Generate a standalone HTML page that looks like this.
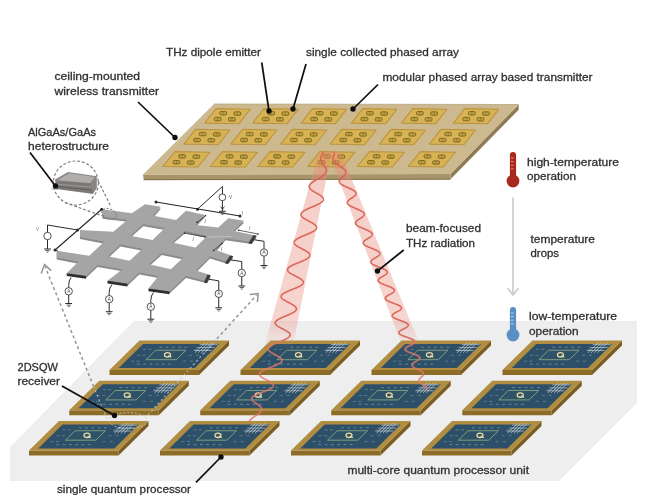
<!DOCTYPE html>
<html><head><meta charset="utf-8"><title>THz wireless quantum processor link</title>
<style>
html,body{margin:0;padding:0;background:#fff;}
body{width:648px;height:500px;overflow:hidden;}
svg{display:block;}
text{font-family:"Liberation Sans",sans-serif;font-size:11.3px;fill:#303030;stroke:#303030;stroke-width:0.3px;}
</style></head><body>
<svg width="648" height="500" viewBox="0 0 648 500">
<defs>
<filter id="soft" x="-5%" y="-5%" width="110%" height="110%"><feGaussianBlur stdDeviation="0.45"/></filter>
<linearGradient id="beamL" gradientUnits="userSpaceOnUse" x1="0" y1="150" x2="0" y2="350">
<stop offset="0" stop-color="#e8887a" stop-opacity="0.42"/><stop offset="0.85" stop-color="#e8887a" stop-opacity="0.36"/><stop offset="1" stop-color="#e8887a" stop-opacity="0"/></linearGradient>
<linearGradient id="beamR" gradientUnits="userSpaceOnUse" x1="0" y1="150" x2="0" y2="350">
<stop offset="0" stop-color="#e8887a" stop-opacity="0.42"/><stop offset="0.85" stop-color="#e8887a" stop-opacity="0.36"/><stop offset="1" stop-color="#e8887a" stop-opacity="0"/></linearGradient>
</defs>
<rect width="648" height="500" fill="#ffffff"/>
<g filter="url(#soft)">

<polygon points="134.00,321.00 637.00,321.00 637.00,403.00 559.00,481.00 10.00,481.00 10.00,447.00" fill="#eeeeee"/>
<polygon points="109.50,370.00 199.00,370.00 199.00,375.00 109.50,375.00" fill="#8c6c28"/>
<polygon points="229.00,340.50 229.00,345.50 199.00,375.00 199.00,370.00" fill="#7a5d20"/>
<polygon points="139.50,340.50 229.00,340.50 199.00,370.00 109.50,370.00" fill="#b08d40"/>
<polygon points="143.06,344.04 219.14,344.04 194.84,367.94 118.76,367.94" fill="#2f5068"/>
<line x1="159.45" y1="347.29" x2="162.13" y2="347.29" stroke="#7fa3b5" stroke-width="1.1" opacity="0.6"/>
<line x1="165.72" y1="347.29" x2="168.40" y2="347.29" stroke="#7fa3b5" stroke-width="1.1" opacity="0.6"/>
<line x1="171.98" y1="347.29" x2="174.66" y2="347.29" stroke="#7fa3b5" stroke-width="1.1" opacity="0.6"/>
<line x1="178.25" y1="347.29" x2="180.93" y2="347.29" stroke="#7fa3b5" stroke-width="1.1" opacity="0.6"/>
<line x1="184.51" y1="347.29" x2="187.19" y2="347.29" stroke="#7fa3b5" stroke-width="1.1" opacity="0.6"/>
<line x1="136.98" y1="364.10" x2="139.66" y2="364.10" stroke="#7fa3b5" stroke-width="1.1" opacity="0.6"/>
<line x1="143.25" y1="364.10" x2="145.93" y2="364.10" stroke="#7fa3b5" stroke-width="1.1" opacity="0.6"/>
<line x1="149.51" y1="364.10" x2="152.19" y2="364.10" stroke="#7fa3b5" stroke-width="1.1" opacity="0.6"/>
<line x1="155.78" y1="364.10" x2="158.46" y2="364.10" stroke="#7fa3b5" stroke-width="1.1" opacity="0.6"/>
<line x1="162.04" y1="364.10" x2="164.72" y2="364.10" stroke="#7fa3b5" stroke-width="1.1" opacity="0.6"/>
<line x1="168.31" y1="364.10" x2="170.99" y2="364.10" stroke="#7fa3b5" stroke-width="1.1" opacity="0.6"/>
<line x1="143.03" y1="349.35" x2="146.16" y2="349.35" stroke="#7fa3b5" stroke-width="1" opacity="0.5"/>
<line x1="148.40" y1="349.35" x2="151.53" y2="349.35" stroke="#7fa3b5" stroke-width="1" opacity="0.5"/>
<line x1="194.94" y1="349.35" x2="198.07" y2="349.35" stroke="#7fa3b5" stroke-width="1" opacity="0.5"/>
<line x1="202.10" y1="349.35" x2="205.23" y2="349.35" stroke="#7fa3b5" stroke-width="1" opacity="0.5"/>
<line x1="137.03" y1="355.25" x2="140.16" y2="355.25" stroke="#7fa3b5" stroke-width="1" opacity="0.5"/>
<line x1="142.40" y1="355.25" x2="145.53" y2="355.25" stroke="#7fa3b5" stroke-width="1" opacity="0.5"/>
<line x1="188.94" y1="355.25" x2="192.07" y2="355.25" stroke="#7fa3b5" stroke-width="1" opacity="0.5"/>
<line x1="196.10" y1="355.25" x2="199.23" y2="355.25" stroke="#7fa3b5" stroke-width="1" opacity="0.5"/>
<line x1="131.03" y1="361.15" x2="134.16" y2="361.15" stroke="#7fa3b5" stroke-width="1" opacity="0.5"/>
<line x1="136.40" y1="361.15" x2="139.53" y2="361.15" stroke="#7fa3b5" stroke-width="1" opacity="0.5"/>
<line x1="182.94" y1="361.15" x2="186.07" y2="361.15" stroke="#7fa3b5" stroke-width="1" opacity="0.5"/>
<line x1="190.10" y1="361.15" x2="193.23" y2="361.15" stroke="#7fa3b5" stroke-width="1" opacity="0.5"/>
<polygon points="155.55,350.24 185.98,350.24 176.38,359.68 145.95,359.68" fill="#2f5268" stroke="#93ad86" stroke-width="0.8"/>
<ellipse cx="167.46" cy="354.81" rx="3.0" ry="2.2" fill="none" stroke="#e6d8a4" stroke-width="1.3"/>
<line x1="168.26" y1="355.61" x2="171.36" y2="357.31" stroke="#e6d8a4" stroke-width="1.2"/>
<line x1="205.12" y1="342.86" x2="194.92" y2="352.89" stroke="#d6dde0" stroke-width="0.8" opacity="0.75"/>
<line x1="208.25" y1="342.86" x2="198.05" y2="352.89" stroke="#d6dde0" stroke-width="0.8" opacity="0.75"/>
<line x1="211.39" y1="342.86" x2="201.19" y2="352.89" stroke="#d6dde0" stroke-width="0.8" opacity="0.75"/>
<line x1="214.52" y1="342.86" x2="204.32" y2="352.89" stroke="#d6dde0" stroke-width="0.8" opacity="0.75"/>
<line x1="199.74" y1="344.63" x2="217.64" y2="344.63" stroke="#d6dde0" stroke-width="0.8" opacity="0.75"/>
<line x1="196.74" y1="347.58" x2="214.64" y2="347.58" stroke="#d6dde0" stroke-width="0.8" opacity="0.75"/>
<line x1="193.74" y1="350.53" x2="211.64" y2="350.53" stroke="#d6dde0" stroke-width="0.8" opacity="0.75"/>
<polygon points="240.50,370.00 330.00,370.00 330.00,375.00 240.50,375.00" fill="#8c6c28"/>
<polygon points="360.00,340.50 360.00,345.50 330.00,375.00 330.00,370.00" fill="#7a5d20"/>
<polygon points="270.50,340.50 360.00,340.50 330.00,370.00 240.50,370.00" fill="#b08d40"/>
<polygon points="274.06,344.04 350.13,344.04 325.84,367.94 249.76,367.94" fill="#2f5068"/>
<line x1="290.45" y1="347.29" x2="293.13" y2="347.29" stroke="#7fa3b5" stroke-width="1.1" opacity="0.6"/>
<line x1="296.72" y1="347.29" x2="299.40" y2="347.29" stroke="#7fa3b5" stroke-width="1.1" opacity="0.6"/>
<line x1="302.98" y1="347.29" x2="305.67" y2="347.29" stroke="#7fa3b5" stroke-width="1.1" opacity="0.6"/>
<line x1="309.25" y1="347.29" x2="311.93" y2="347.29" stroke="#7fa3b5" stroke-width="1.1" opacity="0.6"/>
<line x1="315.51" y1="347.29" x2="318.20" y2="347.29" stroke="#7fa3b5" stroke-width="1.1" opacity="0.6"/>
<line x1="267.98" y1="364.10" x2="270.67" y2="364.10" stroke="#7fa3b5" stroke-width="1.1" opacity="0.6"/>
<line x1="274.25" y1="364.10" x2="276.93" y2="364.10" stroke="#7fa3b5" stroke-width="1.1" opacity="0.6"/>
<line x1="280.51" y1="364.10" x2="283.19" y2="364.10" stroke="#7fa3b5" stroke-width="1.1" opacity="0.6"/>
<line x1="286.77" y1="364.10" x2="289.46" y2="364.10" stroke="#7fa3b5" stroke-width="1.1" opacity="0.6"/>
<line x1="293.04" y1="364.10" x2="295.73" y2="364.10" stroke="#7fa3b5" stroke-width="1.1" opacity="0.6"/>
<line x1="299.31" y1="364.10" x2="301.99" y2="364.10" stroke="#7fa3b5" stroke-width="1.1" opacity="0.6"/>
<line x1="274.03" y1="349.35" x2="277.16" y2="349.35" stroke="#7fa3b5" stroke-width="1" opacity="0.5"/>
<line x1="279.40" y1="349.35" x2="282.53" y2="349.35" stroke="#7fa3b5" stroke-width="1" opacity="0.5"/>
<line x1="325.94" y1="349.35" x2="329.07" y2="349.35" stroke="#7fa3b5" stroke-width="1" opacity="0.5"/>
<line x1="333.10" y1="349.35" x2="336.23" y2="349.35" stroke="#7fa3b5" stroke-width="1" opacity="0.5"/>
<line x1="268.03" y1="355.25" x2="271.16" y2="355.25" stroke="#7fa3b5" stroke-width="1" opacity="0.5"/>
<line x1="273.40" y1="355.25" x2="276.53" y2="355.25" stroke="#7fa3b5" stroke-width="1" opacity="0.5"/>
<line x1="319.94" y1="355.25" x2="323.07" y2="355.25" stroke="#7fa3b5" stroke-width="1" opacity="0.5"/>
<line x1="327.10" y1="355.25" x2="330.23" y2="355.25" stroke="#7fa3b5" stroke-width="1" opacity="0.5"/>
<line x1="262.03" y1="361.15" x2="265.16" y2="361.15" stroke="#7fa3b5" stroke-width="1" opacity="0.5"/>
<line x1="267.40" y1="361.15" x2="270.53" y2="361.15" stroke="#7fa3b5" stroke-width="1" opacity="0.5"/>
<line x1="313.94" y1="361.15" x2="317.07" y2="361.15" stroke="#7fa3b5" stroke-width="1" opacity="0.5"/>
<line x1="321.10" y1="361.15" x2="324.23" y2="361.15" stroke="#7fa3b5" stroke-width="1" opacity="0.5"/>
<polygon points="286.56,350.24 316.99,350.24 307.38,359.68 276.95,359.68" fill="#2f5268" stroke="#93ad86" stroke-width="0.8"/>
<ellipse cx="298.46" cy="354.81" rx="3.0" ry="2.2" fill="none" stroke="#e6d8a4" stroke-width="1.3"/>
<line x1="299.26" y1="355.61" x2="302.36" y2="357.31" stroke="#e6d8a4" stroke-width="1.2"/>
<line x1="336.12" y1="342.86" x2="325.92" y2="352.89" stroke="#d6dde0" stroke-width="0.8" opacity="0.75"/>
<line x1="339.25" y1="342.86" x2="329.05" y2="352.89" stroke="#d6dde0" stroke-width="0.8" opacity="0.75"/>
<line x1="342.39" y1="342.86" x2="332.19" y2="352.89" stroke="#d6dde0" stroke-width="0.8" opacity="0.75"/>
<line x1="345.52" y1="342.86" x2="335.32" y2="352.89" stroke="#d6dde0" stroke-width="0.8" opacity="0.75"/>
<line x1="330.74" y1="344.63" x2="348.64" y2="344.63" stroke="#d6dde0" stroke-width="0.8" opacity="0.75"/>
<line x1="327.74" y1="347.58" x2="345.64" y2="347.58" stroke="#d6dde0" stroke-width="0.8" opacity="0.75"/>
<line x1="324.74" y1="350.53" x2="342.64" y2="350.53" stroke="#d6dde0" stroke-width="0.8" opacity="0.75"/>
<polygon points="371.50,370.00 461.00,370.00 461.00,375.00 371.50,375.00" fill="#8c6c28"/>
<polygon points="491.00,340.50 491.00,345.50 461.00,375.00 461.00,370.00" fill="#7a5d20"/>
<polygon points="401.50,340.50 491.00,340.50 461.00,370.00 371.50,370.00" fill="#b08d40"/>
<polygon points="405.06,344.04 481.13,344.04 456.84,367.94 380.76,367.94" fill="#2f5068"/>
<line x1="421.45" y1="347.29" x2="424.13" y2="347.29" stroke="#7fa3b5" stroke-width="1.1" opacity="0.6"/>
<line x1="427.72" y1="347.29" x2="430.40" y2="347.29" stroke="#7fa3b5" stroke-width="1.1" opacity="0.6"/>
<line x1="433.98" y1="347.29" x2="436.67" y2="347.29" stroke="#7fa3b5" stroke-width="1.1" opacity="0.6"/>
<line x1="440.25" y1="347.29" x2="442.93" y2="347.29" stroke="#7fa3b5" stroke-width="1.1" opacity="0.6"/>
<line x1="446.51" y1="347.29" x2="449.20" y2="347.29" stroke="#7fa3b5" stroke-width="1.1" opacity="0.6"/>
<line x1="398.98" y1="364.10" x2="401.67" y2="364.10" stroke="#7fa3b5" stroke-width="1.1" opacity="0.6"/>
<line x1="405.25" y1="364.10" x2="407.93" y2="364.10" stroke="#7fa3b5" stroke-width="1.1" opacity="0.6"/>
<line x1="411.51" y1="364.10" x2="414.19" y2="364.10" stroke="#7fa3b5" stroke-width="1.1" opacity="0.6"/>
<line x1="417.77" y1="364.10" x2="420.46" y2="364.10" stroke="#7fa3b5" stroke-width="1.1" opacity="0.6"/>
<line x1="424.04" y1="364.10" x2="426.73" y2="364.10" stroke="#7fa3b5" stroke-width="1.1" opacity="0.6"/>
<line x1="430.31" y1="364.10" x2="432.99" y2="364.10" stroke="#7fa3b5" stroke-width="1.1" opacity="0.6"/>
<line x1="405.03" y1="349.35" x2="408.16" y2="349.35" stroke="#7fa3b5" stroke-width="1" opacity="0.5"/>
<line x1="410.40" y1="349.35" x2="413.53" y2="349.35" stroke="#7fa3b5" stroke-width="1" opacity="0.5"/>
<line x1="456.94" y1="349.35" x2="460.07" y2="349.35" stroke="#7fa3b5" stroke-width="1" opacity="0.5"/>
<line x1="464.10" y1="349.35" x2="467.23" y2="349.35" stroke="#7fa3b5" stroke-width="1" opacity="0.5"/>
<line x1="399.03" y1="355.25" x2="402.16" y2="355.25" stroke="#7fa3b5" stroke-width="1" opacity="0.5"/>
<line x1="404.40" y1="355.25" x2="407.53" y2="355.25" stroke="#7fa3b5" stroke-width="1" opacity="0.5"/>
<line x1="450.94" y1="355.25" x2="454.07" y2="355.25" stroke="#7fa3b5" stroke-width="1" opacity="0.5"/>
<line x1="458.10" y1="355.25" x2="461.23" y2="355.25" stroke="#7fa3b5" stroke-width="1" opacity="0.5"/>
<line x1="393.03" y1="361.15" x2="396.16" y2="361.15" stroke="#7fa3b5" stroke-width="1" opacity="0.5"/>
<line x1="398.40" y1="361.15" x2="401.53" y2="361.15" stroke="#7fa3b5" stroke-width="1" opacity="0.5"/>
<line x1="444.94" y1="361.15" x2="448.07" y2="361.15" stroke="#7fa3b5" stroke-width="1" opacity="0.5"/>
<line x1="452.10" y1="361.15" x2="455.23" y2="361.15" stroke="#7fa3b5" stroke-width="1" opacity="0.5"/>
<polygon points="417.56,350.24 447.99,350.24 438.38,359.68 407.95,359.68" fill="#2f5268" stroke="#93ad86" stroke-width="0.8"/>
<ellipse cx="429.46" cy="354.81" rx="3.0" ry="2.2" fill="none" stroke="#e6d8a4" stroke-width="1.3"/>
<line x1="430.26" y1="355.61" x2="433.36" y2="357.31" stroke="#e6d8a4" stroke-width="1.2"/>
<line x1="467.12" y1="342.86" x2="456.92" y2="352.89" stroke="#d6dde0" stroke-width="0.8" opacity="0.75"/>
<line x1="470.25" y1="342.86" x2="460.05" y2="352.89" stroke="#d6dde0" stroke-width="0.8" opacity="0.75"/>
<line x1="473.39" y1="342.86" x2="463.19" y2="352.89" stroke="#d6dde0" stroke-width="0.8" opacity="0.75"/>
<line x1="476.52" y1="342.86" x2="466.32" y2="352.89" stroke="#d6dde0" stroke-width="0.8" opacity="0.75"/>
<line x1="461.74" y1="344.63" x2="479.64" y2="344.63" stroke="#d6dde0" stroke-width="0.8" opacity="0.75"/>
<line x1="458.74" y1="347.58" x2="476.64" y2="347.58" stroke="#d6dde0" stroke-width="0.8" opacity="0.75"/>
<line x1="455.74" y1="350.53" x2="473.64" y2="350.53" stroke="#d6dde0" stroke-width="0.8" opacity="0.75"/>
<polygon points="502.50,370.00 592.00,370.00 592.00,375.00 502.50,375.00" fill="#8c6c28"/>
<polygon points="622.00,340.50 622.00,345.50 592.00,375.00 592.00,370.00" fill="#7a5d20"/>
<polygon points="532.50,340.50 622.00,340.50 592.00,370.00 502.50,370.00" fill="#b08d40"/>
<polygon points="536.06,344.04 612.13,344.04 587.84,367.94 511.76,367.94" fill="#2f5068"/>
<line x1="552.45" y1="347.29" x2="555.13" y2="347.29" stroke="#7fa3b5" stroke-width="1.1" opacity="0.6"/>
<line x1="558.72" y1="347.29" x2="561.40" y2="347.29" stroke="#7fa3b5" stroke-width="1.1" opacity="0.6"/>
<line x1="564.98" y1="347.29" x2="567.67" y2="347.29" stroke="#7fa3b5" stroke-width="1.1" opacity="0.6"/>
<line x1="571.25" y1="347.29" x2="573.93" y2="347.29" stroke="#7fa3b5" stroke-width="1.1" opacity="0.6"/>
<line x1="577.51" y1="347.29" x2="580.20" y2="347.29" stroke="#7fa3b5" stroke-width="1.1" opacity="0.6"/>
<line x1="529.98" y1="364.10" x2="532.66" y2="364.10" stroke="#7fa3b5" stroke-width="1.1" opacity="0.6"/>
<line x1="536.25" y1="364.10" x2="538.93" y2="364.10" stroke="#7fa3b5" stroke-width="1.1" opacity="0.6"/>
<line x1="542.51" y1="364.10" x2="545.20" y2="364.10" stroke="#7fa3b5" stroke-width="1.1" opacity="0.6"/>
<line x1="548.77" y1="364.10" x2="551.46" y2="364.10" stroke="#7fa3b5" stroke-width="1.1" opacity="0.6"/>
<line x1="555.04" y1="364.10" x2="557.73" y2="364.10" stroke="#7fa3b5" stroke-width="1.1" opacity="0.6"/>
<line x1="561.30" y1="364.10" x2="563.99" y2="364.10" stroke="#7fa3b5" stroke-width="1.1" opacity="0.6"/>
<line x1="536.03" y1="349.35" x2="539.16" y2="349.35" stroke="#7fa3b5" stroke-width="1" opacity="0.5"/>
<line x1="541.40" y1="349.35" x2="544.53" y2="349.35" stroke="#7fa3b5" stroke-width="1" opacity="0.5"/>
<line x1="587.94" y1="349.35" x2="591.07" y2="349.35" stroke="#7fa3b5" stroke-width="1" opacity="0.5"/>
<line x1="595.10" y1="349.35" x2="598.23" y2="349.35" stroke="#7fa3b5" stroke-width="1" opacity="0.5"/>
<line x1="530.03" y1="355.25" x2="533.16" y2="355.25" stroke="#7fa3b5" stroke-width="1" opacity="0.5"/>
<line x1="535.40" y1="355.25" x2="538.53" y2="355.25" stroke="#7fa3b5" stroke-width="1" opacity="0.5"/>
<line x1="581.94" y1="355.25" x2="585.07" y2="355.25" stroke="#7fa3b5" stroke-width="1" opacity="0.5"/>
<line x1="589.10" y1="355.25" x2="592.23" y2="355.25" stroke="#7fa3b5" stroke-width="1" opacity="0.5"/>
<line x1="524.03" y1="361.15" x2="527.16" y2="361.15" stroke="#7fa3b5" stroke-width="1" opacity="0.5"/>
<line x1="529.40" y1="361.15" x2="532.53" y2="361.15" stroke="#7fa3b5" stroke-width="1" opacity="0.5"/>
<line x1="575.94" y1="361.15" x2="579.07" y2="361.15" stroke="#7fa3b5" stroke-width="1" opacity="0.5"/>
<line x1="583.10" y1="361.15" x2="586.23" y2="361.15" stroke="#7fa3b5" stroke-width="1" opacity="0.5"/>
<polygon points="548.56,350.24 578.99,350.24 569.38,359.68 538.96,359.68" fill="#2f5268" stroke="#93ad86" stroke-width="0.8"/>
<ellipse cx="560.46" cy="354.81" rx="3.0" ry="2.2" fill="none" stroke="#e6d8a4" stroke-width="1.3"/>
<line x1="561.26" y1="355.61" x2="564.36" y2="357.31" stroke="#e6d8a4" stroke-width="1.2"/>
<line x1="598.12" y1="342.86" x2="587.92" y2="352.89" stroke="#d6dde0" stroke-width="0.8" opacity="0.75"/>
<line x1="601.25" y1="342.86" x2="591.05" y2="352.89" stroke="#d6dde0" stroke-width="0.8" opacity="0.75"/>
<line x1="604.38" y1="342.86" x2="594.18" y2="352.89" stroke="#d6dde0" stroke-width="0.8" opacity="0.75"/>
<line x1="607.52" y1="342.86" x2="597.32" y2="352.89" stroke="#d6dde0" stroke-width="0.8" opacity="0.75"/>
<line x1="592.74" y1="344.63" x2="610.64" y2="344.63" stroke="#d6dde0" stroke-width="0.8" opacity="0.75"/>
<line x1="589.74" y1="347.58" x2="607.64" y2="347.58" stroke="#d6dde0" stroke-width="0.8" opacity="0.75"/>
<line x1="586.74" y1="350.53" x2="604.64" y2="350.53" stroke="#d6dde0" stroke-width="0.8" opacity="0.75"/>
<polygon points="69.25,410.25 158.75,410.25 158.75,415.25 69.25,415.25" fill="#8c6c28"/>
<polygon points="188.75,380.75 188.75,385.75 158.75,415.25 158.75,410.25" fill="#7a5d20"/>
<polygon points="99.25,380.75 188.75,380.75 158.75,410.25 69.25,410.25" fill="#b08d40"/>
<polygon points="102.81,384.29 178.89,384.29 154.59,408.19 78.51,408.19" fill="#2f5068"/>
<line x1="119.20" y1="387.54" x2="121.88" y2="387.54" stroke="#7fa3b5" stroke-width="1.1" opacity="0.6"/>
<line x1="125.47" y1="387.54" x2="128.15" y2="387.54" stroke="#7fa3b5" stroke-width="1.1" opacity="0.6"/>
<line x1="131.73" y1="387.54" x2="134.41" y2="387.54" stroke="#7fa3b5" stroke-width="1.1" opacity="0.6"/>
<line x1="138.00" y1="387.54" x2="140.68" y2="387.54" stroke="#7fa3b5" stroke-width="1.1" opacity="0.6"/>
<line x1="144.26" y1="387.54" x2="146.94" y2="387.54" stroke="#7fa3b5" stroke-width="1.1" opacity="0.6"/>
<line x1="96.73" y1="404.35" x2="99.42" y2="404.35" stroke="#7fa3b5" stroke-width="1.1" opacity="0.6"/>
<line x1="103.00" y1="404.35" x2="105.68" y2="404.35" stroke="#7fa3b5" stroke-width="1.1" opacity="0.6"/>
<line x1="109.26" y1="404.35" x2="111.94" y2="404.35" stroke="#7fa3b5" stroke-width="1.1" opacity="0.6"/>
<line x1="115.53" y1="404.35" x2="118.21" y2="404.35" stroke="#7fa3b5" stroke-width="1.1" opacity="0.6"/>
<line x1="121.79" y1="404.35" x2="124.47" y2="404.35" stroke="#7fa3b5" stroke-width="1.1" opacity="0.6"/>
<line x1="128.06" y1="404.35" x2="130.74" y2="404.35" stroke="#7fa3b5" stroke-width="1.1" opacity="0.6"/>
<line x1="102.78" y1="389.60" x2="105.91" y2="389.60" stroke="#7fa3b5" stroke-width="1" opacity="0.5"/>
<line x1="108.15" y1="389.60" x2="111.28" y2="389.60" stroke="#7fa3b5" stroke-width="1" opacity="0.5"/>
<line x1="154.69" y1="389.60" x2="157.82" y2="389.60" stroke="#7fa3b5" stroke-width="1" opacity="0.5"/>
<line x1="161.85" y1="389.60" x2="164.98" y2="389.60" stroke="#7fa3b5" stroke-width="1" opacity="0.5"/>
<line x1="96.78" y1="395.50" x2="99.91" y2="395.50" stroke="#7fa3b5" stroke-width="1" opacity="0.5"/>
<line x1="102.15" y1="395.50" x2="105.28" y2="395.50" stroke="#7fa3b5" stroke-width="1" opacity="0.5"/>
<line x1="148.69" y1="395.50" x2="151.82" y2="395.50" stroke="#7fa3b5" stroke-width="1" opacity="0.5"/>
<line x1="155.85" y1="395.50" x2="158.98" y2="395.50" stroke="#7fa3b5" stroke-width="1" opacity="0.5"/>
<line x1="90.78" y1="401.40" x2="93.91" y2="401.40" stroke="#7fa3b5" stroke-width="1" opacity="0.5"/>
<line x1="96.15" y1="401.40" x2="99.28" y2="401.40" stroke="#7fa3b5" stroke-width="1" opacity="0.5"/>
<line x1="142.69" y1="401.40" x2="145.82" y2="401.40" stroke="#7fa3b5" stroke-width="1" opacity="0.5"/>
<line x1="149.85" y1="401.40" x2="152.98" y2="401.40" stroke="#7fa3b5" stroke-width="1" opacity="0.5"/>
<polygon points="115.30,390.49 145.73,390.49 136.13,399.93 105.70,399.93" fill="#2f5268" stroke="#93ad86" stroke-width="0.8"/>
<ellipse cx="127.21" cy="395.06" rx="3.0" ry="2.2" fill="none" stroke="#e6d8a4" stroke-width="1.3"/>
<line x1="128.01" y1="395.86" x2="131.11" y2="397.56" stroke="#e6d8a4" stroke-width="1.2"/>
<line x1="164.87" y1="383.11" x2="154.67" y2="393.14" stroke="#d6dde0" stroke-width="0.8" opacity="0.75"/>
<line x1="168.00" y1="383.11" x2="157.80" y2="393.14" stroke="#d6dde0" stroke-width="0.8" opacity="0.75"/>
<line x1="171.14" y1="383.11" x2="160.94" y2="393.14" stroke="#d6dde0" stroke-width="0.8" opacity="0.75"/>
<line x1="174.27" y1="383.11" x2="164.07" y2="393.14" stroke="#d6dde0" stroke-width="0.8" opacity="0.75"/>
<line x1="159.49" y1="384.88" x2="177.39" y2="384.88" stroke="#d6dde0" stroke-width="0.8" opacity="0.75"/>
<line x1="156.49" y1="387.83" x2="174.39" y2="387.83" stroke="#d6dde0" stroke-width="0.8" opacity="0.75"/>
<line x1="153.49" y1="390.78" x2="171.39" y2="390.78" stroke="#d6dde0" stroke-width="0.8" opacity="0.75"/>
<polygon points="200.25,410.25 289.75,410.25 289.75,415.25 200.25,415.25" fill="#8c6c28"/>
<polygon points="319.75,380.75 319.75,385.75 289.75,415.25 289.75,410.25" fill="#7a5d20"/>
<polygon points="230.25,380.75 319.75,380.75 289.75,410.25 200.25,410.25" fill="#b08d40"/>
<polygon points="233.81,384.29 309.88,384.29 285.59,408.19 209.51,408.19" fill="#2f5068"/>
<line x1="250.20" y1="387.54" x2="252.88" y2="387.54" stroke="#7fa3b5" stroke-width="1.1" opacity="0.6"/>
<line x1="256.47" y1="387.54" x2="259.15" y2="387.54" stroke="#7fa3b5" stroke-width="1.1" opacity="0.6"/>
<line x1="262.73" y1="387.54" x2="265.42" y2="387.54" stroke="#7fa3b5" stroke-width="1.1" opacity="0.6"/>
<line x1="269.00" y1="387.54" x2="271.68" y2="387.54" stroke="#7fa3b5" stroke-width="1.1" opacity="0.6"/>
<line x1="275.26" y1="387.54" x2="277.95" y2="387.54" stroke="#7fa3b5" stroke-width="1.1" opacity="0.6"/>
<line x1="227.73" y1="404.35" x2="230.41" y2="404.35" stroke="#7fa3b5" stroke-width="1.1" opacity="0.6"/>
<line x1="234.00" y1="404.35" x2="236.68" y2="404.35" stroke="#7fa3b5" stroke-width="1.1" opacity="0.6"/>
<line x1="240.26" y1="404.35" x2="242.94" y2="404.35" stroke="#7fa3b5" stroke-width="1.1" opacity="0.6"/>
<line x1="246.52" y1="404.35" x2="249.21" y2="404.35" stroke="#7fa3b5" stroke-width="1.1" opacity="0.6"/>
<line x1="252.79" y1="404.35" x2="255.48" y2="404.35" stroke="#7fa3b5" stroke-width="1.1" opacity="0.6"/>
<line x1="259.06" y1="404.35" x2="261.74" y2="404.35" stroke="#7fa3b5" stroke-width="1.1" opacity="0.6"/>
<line x1="233.78" y1="389.60" x2="236.91" y2="389.60" stroke="#7fa3b5" stroke-width="1" opacity="0.5"/>
<line x1="239.15" y1="389.60" x2="242.28" y2="389.60" stroke="#7fa3b5" stroke-width="1" opacity="0.5"/>
<line x1="285.69" y1="389.60" x2="288.82" y2="389.60" stroke="#7fa3b5" stroke-width="1" opacity="0.5"/>
<line x1="292.85" y1="389.60" x2="295.98" y2="389.60" stroke="#7fa3b5" stroke-width="1" opacity="0.5"/>
<line x1="227.78" y1="395.50" x2="230.91" y2="395.50" stroke="#7fa3b5" stroke-width="1" opacity="0.5"/>
<line x1="233.15" y1="395.50" x2="236.28" y2="395.50" stroke="#7fa3b5" stroke-width="1" opacity="0.5"/>
<line x1="279.69" y1="395.50" x2="282.82" y2="395.50" stroke="#7fa3b5" stroke-width="1" opacity="0.5"/>
<line x1="286.85" y1="395.50" x2="289.98" y2="395.50" stroke="#7fa3b5" stroke-width="1" opacity="0.5"/>
<line x1="221.78" y1="401.40" x2="224.91" y2="401.40" stroke="#7fa3b5" stroke-width="1" opacity="0.5"/>
<line x1="227.15" y1="401.40" x2="230.28" y2="401.40" stroke="#7fa3b5" stroke-width="1" opacity="0.5"/>
<line x1="273.69" y1="401.40" x2="276.82" y2="401.40" stroke="#7fa3b5" stroke-width="1" opacity="0.5"/>
<line x1="280.85" y1="401.40" x2="283.98" y2="401.40" stroke="#7fa3b5" stroke-width="1" opacity="0.5"/>
<polygon points="246.30,390.49 276.74,390.49 267.13,399.93 236.70,399.93" fill="#2f5268" stroke="#93ad86" stroke-width="0.8"/>
<ellipse cx="258.21" cy="395.06" rx="3.0" ry="2.2" fill="none" stroke="#e6d8a4" stroke-width="1.3"/>
<line x1="259.01" y1="395.86" x2="262.11" y2="397.56" stroke="#e6d8a4" stroke-width="1.2"/>
<line x1="295.87" y1="383.11" x2="285.67" y2="393.14" stroke="#d6dde0" stroke-width="0.8" opacity="0.75"/>
<line x1="299.00" y1="383.11" x2="288.80" y2="393.14" stroke="#d6dde0" stroke-width="0.8" opacity="0.75"/>
<line x1="302.14" y1="383.11" x2="291.94" y2="393.14" stroke="#d6dde0" stroke-width="0.8" opacity="0.75"/>
<line x1="305.27" y1="383.11" x2="295.07" y2="393.14" stroke="#d6dde0" stroke-width="0.8" opacity="0.75"/>
<line x1="290.49" y1="384.88" x2="308.39" y2="384.88" stroke="#d6dde0" stroke-width="0.8" opacity="0.75"/>
<line x1="287.49" y1="387.83" x2="305.39" y2="387.83" stroke="#d6dde0" stroke-width="0.8" opacity="0.75"/>
<line x1="284.49" y1="390.78" x2="302.39" y2="390.78" stroke="#d6dde0" stroke-width="0.8" opacity="0.75"/>
<polygon points="331.25,410.25 420.75,410.25 420.75,415.25 331.25,415.25" fill="#8c6c28"/>
<polygon points="450.75,380.75 450.75,385.75 420.75,415.25 420.75,410.25" fill="#7a5d20"/>
<polygon points="361.25,380.75 450.75,380.75 420.75,410.25 331.25,410.25" fill="#b08d40"/>
<polygon points="364.81,384.29 440.88,384.29 416.59,408.19 340.51,408.19" fill="#2f5068"/>
<line x1="381.20" y1="387.54" x2="383.88" y2="387.54" stroke="#7fa3b5" stroke-width="1.1" opacity="0.6"/>
<line x1="387.47" y1="387.54" x2="390.15" y2="387.54" stroke="#7fa3b5" stroke-width="1.1" opacity="0.6"/>
<line x1="393.73" y1="387.54" x2="396.42" y2="387.54" stroke="#7fa3b5" stroke-width="1.1" opacity="0.6"/>
<line x1="400.00" y1="387.54" x2="402.68" y2="387.54" stroke="#7fa3b5" stroke-width="1.1" opacity="0.6"/>
<line x1="406.26" y1="387.54" x2="408.95" y2="387.54" stroke="#7fa3b5" stroke-width="1.1" opacity="0.6"/>
<line x1="358.73" y1="404.35" x2="361.42" y2="404.35" stroke="#7fa3b5" stroke-width="1.1" opacity="0.6"/>
<line x1="365.00" y1="404.35" x2="367.68" y2="404.35" stroke="#7fa3b5" stroke-width="1.1" opacity="0.6"/>
<line x1="371.26" y1="404.35" x2="373.94" y2="404.35" stroke="#7fa3b5" stroke-width="1.1" opacity="0.6"/>
<line x1="377.52" y1="404.35" x2="380.21" y2="404.35" stroke="#7fa3b5" stroke-width="1.1" opacity="0.6"/>
<line x1="383.79" y1="404.35" x2="386.48" y2="404.35" stroke="#7fa3b5" stroke-width="1.1" opacity="0.6"/>
<line x1="390.06" y1="404.35" x2="392.74" y2="404.35" stroke="#7fa3b5" stroke-width="1.1" opacity="0.6"/>
<line x1="364.78" y1="389.60" x2="367.91" y2="389.60" stroke="#7fa3b5" stroke-width="1" opacity="0.5"/>
<line x1="370.15" y1="389.60" x2="373.28" y2="389.60" stroke="#7fa3b5" stroke-width="1" opacity="0.5"/>
<line x1="416.69" y1="389.60" x2="419.82" y2="389.60" stroke="#7fa3b5" stroke-width="1" opacity="0.5"/>
<line x1="423.85" y1="389.60" x2="426.98" y2="389.60" stroke="#7fa3b5" stroke-width="1" opacity="0.5"/>
<line x1="358.78" y1="395.50" x2="361.91" y2="395.50" stroke="#7fa3b5" stroke-width="1" opacity="0.5"/>
<line x1="364.15" y1="395.50" x2="367.28" y2="395.50" stroke="#7fa3b5" stroke-width="1" opacity="0.5"/>
<line x1="410.69" y1="395.50" x2="413.82" y2="395.50" stroke="#7fa3b5" stroke-width="1" opacity="0.5"/>
<line x1="417.85" y1="395.50" x2="420.98" y2="395.50" stroke="#7fa3b5" stroke-width="1" opacity="0.5"/>
<line x1="352.78" y1="401.40" x2="355.91" y2="401.40" stroke="#7fa3b5" stroke-width="1" opacity="0.5"/>
<line x1="358.15" y1="401.40" x2="361.28" y2="401.40" stroke="#7fa3b5" stroke-width="1" opacity="0.5"/>
<line x1="404.69" y1="401.40" x2="407.82" y2="401.40" stroke="#7fa3b5" stroke-width="1" opacity="0.5"/>
<line x1="411.85" y1="401.40" x2="414.98" y2="401.40" stroke="#7fa3b5" stroke-width="1" opacity="0.5"/>
<polygon points="377.31,390.49 407.74,390.49 398.13,399.93 367.70,399.93" fill="#2f5268" stroke="#93ad86" stroke-width="0.8"/>
<ellipse cx="389.21" cy="395.06" rx="3.0" ry="2.2" fill="none" stroke="#e6d8a4" stroke-width="1.3"/>
<line x1="390.01" y1="395.86" x2="393.11" y2="397.56" stroke="#e6d8a4" stroke-width="1.2"/>
<line x1="426.87" y1="383.11" x2="416.67" y2="393.14" stroke="#d6dde0" stroke-width="0.8" opacity="0.75"/>
<line x1="430.00" y1="383.11" x2="419.80" y2="393.14" stroke="#d6dde0" stroke-width="0.8" opacity="0.75"/>
<line x1="433.14" y1="383.11" x2="422.94" y2="393.14" stroke="#d6dde0" stroke-width="0.8" opacity="0.75"/>
<line x1="436.27" y1="383.11" x2="426.07" y2="393.14" stroke="#d6dde0" stroke-width="0.8" opacity="0.75"/>
<line x1="421.49" y1="384.88" x2="439.39" y2="384.88" stroke="#d6dde0" stroke-width="0.8" opacity="0.75"/>
<line x1="418.49" y1="387.83" x2="436.39" y2="387.83" stroke="#d6dde0" stroke-width="0.8" opacity="0.75"/>
<line x1="415.49" y1="390.78" x2="433.39" y2="390.78" stroke="#d6dde0" stroke-width="0.8" opacity="0.75"/>
<polygon points="462.25,410.25 551.75,410.25 551.75,415.25 462.25,415.25" fill="#8c6c28"/>
<polygon points="581.75,380.75 581.75,385.75 551.75,415.25 551.75,410.25" fill="#7a5d20"/>
<polygon points="492.25,380.75 581.75,380.75 551.75,410.25 462.25,410.25" fill="#b08d40"/>
<polygon points="495.81,384.29 571.88,384.29 547.59,408.19 471.51,408.19" fill="#2f5068"/>
<line x1="512.20" y1="387.54" x2="514.88" y2="387.54" stroke="#7fa3b5" stroke-width="1.1" opacity="0.6"/>
<line x1="518.47" y1="387.54" x2="521.15" y2="387.54" stroke="#7fa3b5" stroke-width="1.1" opacity="0.6"/>
<line x1="524.73" y1="387.54" x2="527.42" y2="387.54" stroke="#7fa3b5" stroke-width="1.1" opacity="0.6"/>
<line x1="531.00" y1="387.54" x2="533.68" y2="387.54" stroke="#7fa3b5" stroke-width="1.1" opacity="0.6"/>
<line x1="537.26" y1="387.54" x2="539.95" y2="387.54" stroke="#7fa3b5" stroke-width="1.1" opacity="0.6"/>
<line x1="489.73" y1="404.35" x2="492.41" y2="404.35" stroke="#7fa3b5" stroke-width="1.1" opacity="0.6"/>
<line x1="496.00" y1="404.35" x2="498.68" y2="404.35" stroke="#7fa3b5" stroke-width="1.1" opacity="0.6"/>
<line x1="502.26" y1="404.35" x2="504.95" y2="404.35" stroke="#7fa3b5" stroke-width="1.1" opacity="0.6"/>
<line x1="508.52" y1="404.35" x2="511.21" y2="404.35" stroke="#7fa3b5" stroke-width="1.1" opacity="0.6"/>
<line x1="514.79" y1="404.35" x2="517.48" y2="404.35" stroke="#7fa3b5" stroke-width="1.1" opacity="0.6"/>
<line x1="521.05" y1="404.35" x2="523.74" y2="404.35" stroke="#7fa3b5" stroke-width="1.1" opacity="0.6"/>
<line x1="495.78" y1="389.60" x2="498.91" y2="389.60" stroke="#7fa3b5" stroke-width="1" opacity="0.5"/>
<line x1="501.15" y1="389.60" x2="504.28" y2="389.60" stroke="#7fa3b5" stroke-width="1" opacity="0.5"/>
<line x1="547.69" y1="389.60" x2="550.82" y2="389.60" stroke="#7fa3b5" stroke-width="1" opacity="0.5"/>
<line x1="554.85" y1="389.60" x2="557.98" y2="389.60" stroke="#7fa3b5" stroke-width="1" opacity="0.5"/>
<line x1="489.78" y1="395.50" x2="492.91" y2="395.50" stroke="#7fa3b5" stroke-width="1" opacity="0.5"/>
<line x1="495.15" y1="395.50" x2="498.28" y2="395.50" stroke="#7fa3b5" stroke-width="1" opacity="0.5"/>
<line x1="541.69" y1="395.50" x2="544.82" y2="395.50" stroke="#7fa3b5" stroke-width="1" opacity="0.5"/>
<line x1="548.85" y1="395.50" x2="551.98" y2="395.50" stroke="#7fa3b5" stroke-width="1" opacity="0.5"/>
<line x1="483.78" y1="401.40" x2="486.91" y2="401.40" stroke="#7fa3b5" stroke-width="1" opacity="0.5"/>
<line x1="489.15" y1="401.40" x2="492.28" y2="401.40" stroke="#7fa3b5" stroke-width="1" opacity="0.5"/>
<line x1="535.69" y1="401.40" x2="538.82" y2="401.40" stroke="#7fa3b5" stroke-width="1" opacity="0.5"/>
<line x1="542.85" y1="401.40" x2="545.98" y2="401.40" stroke="#7fa3b5" stroke-width="1" opacity="0.5"/>
<polygon points="508.31,390.49 538.74,390.49 529.13,399.93 498.71,399.93" fill="#2f5268" stroke="#93ad86" stroke-width="0.8"/>
<ellipse cx="520.21" cy="395.06" rx="3.0" ry="2.2" fill="none" stroke="#e6d8a4" stroke-width="1.3"/>
<line x1="521.01" y1="395.86" x2="524.11" y2="397.56" stroke="#e6d8a4" stroke-width="1.2"/>
<line x1="557.87" y1="383.11" x2="547.67" y2="393.14" stroke="#d6dde0" stroke-width="0.8" opacity="0.75"/>
<line x1="561.00" y1="383.11" x2="550.80" y2="393.14" stroke="#d6dde0" stroke-width="0.8" opacity="0.75"/>
<line x1="564.13" y1="383.11" x2="553.93" y2="393.14" stroke="#d6dde0" stroke-width="0.8" opacity="0.75"/>
<line x1="567.27" y1="383.11" x2="557.07" y2="393.14" stroke="#d6dde0" stroke-width="0.8" opacity="0.75"/>
<line x1="552.49" y1="384.88" x2="570.39" y2="384.88" stroke="#d6dde0" stroke-width="0.8" opacity="0.75"/>
<line x1="549.49" y1="387.83" x2="567.39" y2="387.83" stroke="#d6dde0" stroke-width="0.8" opacity="0.75"/>
<line x1="546.49" y1="390.78" x2="564.39" y2="390.78" stroke="#d6dde0" stroke-width="0.8" opacity="0.75"/>
<polygon points="29.00,450.50 118.50,450.50 118.50,455.50 29.00,455.50" fill="#8c6c28"/>
<polygon points="148.50,421.00 148.50,426.00 118.50,455.50 118.50,450.50" fill="#7a5d20"/>
<polygon points="59.00,421.00 148.50,421.00 118.50,450.50 29.00,450.50" fill="#b08d40"/>
<polygon points="62.56,424.54 138.64,424.54 114.34,448.44 38.26,448.44" fill="#2f5068"/>
<line x1="78.95" y1="427.79" x2="81.63" y2="427.79" stroke="#7fa3b5" stroke-width="1.1" opacity="0.6"/>
<line x1="85.22" y1="427.79" x2="87.90" y2="427.79" stroke="#7fa3b5" stroke-width="1.1" opacity="0.6"/>
<line x1="91.48" y1="427.79" x2="94.16" y2="427.79" stroke="#7fa3b5" stroke-width="1.1" opacity="0.6"/>
<line x1="97.75" y1="427.79" x2="100.43" y2="427.79" stroke="#7fa3b5" stroke-width="1.1" opacity="0.6"/>
<line x1="104.01" y1="427.79" x2="106.69" y2="427.79" stroke="#7fa3b5" stroke-width="1.1" opacity="0.6"/>
<line x1="56.48" y1="444.60" x2="59.17" y2="444.60" stroke="#7fa3b5" stroke-width="1.1" opacity="0.6"/>
<line x1="62.75" y1="444.60" x2="65.43" y2="444.60" stroke="#7fa3b5" stroke-width="1.1" opacity="0.6"/>
<line x1="69.01" y1="444.60" x2="71.69" y2="444.60" stroke="#7fa3b5" stroke-width="1.1" opacity="0.6"/>
<line x1="75.28" y1="444.60" x2="77.96" y2="444.60" stroke="#7fa3b5" stroke-width="1.1" opacity="0.6"/>
<line x1="81.54" y1="444.60" x2="84.22" y2="444.60" stroke="#7fa3b5" stroke-width="1.1" opacity="0.6"/>
<line x1="87.81" y1="444.60" x2="90.49" y2="444.60" stroke="#7fa3b5" stroke-width="1.1" opacity="0.6"/>
<line x1="62.53" y1="429.85" x2="65.66" y2="429.85" stroke="#7fa3b5" stroke-width="1" opacity="0.5"/>
<line x1="67.90" y1="429.85" x2="71.03" y2="429.85" stroke="#7fa3b5" stroke-width="1" opacity="0.5"/>
<line x1="114.44" y1="429.85" x2="117.57" y2="429.85" stroke="#7fa3b5" stroke-width="1" opacity="0.5"/>
<line x1="121.60" y1="429.85" x2="124.73" y2="429.85" stroke="#7fa3b5" stroke-width="1" opacity="0.5"/>
<line x1="56.53" y1="435.75" x2="59.66" y2="435.75" stroke="#7fa3b5" stroke-width="1" opacity="0.5"/>
<line x1="61.90" y1="435.75" x2="65.03" y2="435.75" stroke="#7fa3b5" stroke-width="1" opacity="0.5"/>
<line x1="108.44" y1="435.75" x2="111.57" y2="435.75" stroke="#7fa3b5" stroke-width="1" opacity="0.5"/>
<line x1="115.60" y1="435.75" x2="118.73" y2="435.75" stroke="#7fa3b5" stroke-width="1" opacity="0.5"/>
<line x1="50.53" y1="441.65" x2="53.66" y2="441.65" stroke="#7fa3b5" stroke-width="1" opacity="0.5"/>
<line x1="55.90" y1="441.65" x2="59.03" y2="441.65" stroke="#7fa3b5" stroke-width="1" opacity="0.5"/>
<line x1="102.44" y1="441.65" x2="105.57" y2="441.65" stroke="#7fa3b5" stroke-width="1" opacity="0.5"/>
<line x1="109.60" y1="441.65" x2="112.73" y2="441.65" stroke="#7fa3b5" stroke-width="1" opacity="0.5"/>
<polygon points="75.05,430.74 105.48,430.74 95.88,440.18 65.45,440.18" fill="#2f5268" stroke="#93ad86" stroke-width="0.8"/>
<ellipse cx="86.96" cy="435.31" rx="3.0" ry="2.2" fill="none" stroke="#e6d8a4" stroke-width="1.3"/>
<line x1="87.76" y1="436.11" x2="90.86" y2="437.81" stroke="#e6d8a4" stroke-width="1.2"/>
<line x1="124.62" y1="423.36" x2="114.42" y2="433.39" stroke="#d6dde0" stroke-width="0.8" opacity="0.75"/>
<line x1="127.75" y1="423.36" x2="117.55" y2="433.39" stroke="#d6dde0" stroke-width="0.8" opacity="0.75"/>
<line x1="130.89" y1="423.36" x2="120.69" y2="433.39" stroke="#d6dde0" stroke-width="0.8" opacity="0.75"/>
<line x1="134.02" y1="423.36" x2="123.82" y2="433.39" stroke="#d6dde0" stroke-width="0.8" opacity="0.75"/>
<line x1="119.24" y1="425.13" x2="137.14" y2="425.13" stroke="#d6dde0" stroke-width="0.8" opacity="0.75"/>
<line x1="116.24" y1="428.08" x2="134.14" y2="428.08" stroke="#d6dde0" stroke-width="0.8" opacity="0.75"/>
<line x1="113.24" y1="431.03" x2="131.14" y2="431.03" stroke="#d6dde0" stroke-width="0.8" opacity="0.75"/>
<polygon points="160.00,450.50 249.50,450.50 249.50,455.50 160.00,455.50" fill="#8c6c28"/>
<polygon points="279.50,421.00 279.50,426.00 249.50,455.50 249.50,450.50" fill="#7a5d20"/>
<polygon points="190.00,421.00 279.50,421.00 249.50,450.50 160.00,450.50" fill="#b08d40"/>
<polygon points="193.56,424.54 269.63,424.54 245.34,448.44 169.26,448.44" fill="#2f5068"/>
<line x1="209.95" y1="427.79" x2="212.63" y2="427.79" stroke="#7fa3b5" stroke-width="1.1" opacity="0.6"/>
<line x1="216.22" y1="427.79" x2="218.90" y2="427.79" stroke="#7fa3b5" stroke-width="1.1" opacity="0.6"/>
<line x1="222.48" y1="427.79" x2="225.16" y2="427.79" stroke="#7fa3b5" stroke-width="1.1" opacity="0.6"/>
<line x1="228.75" y1="427.79" x2="231.43" y2="427.79" stroke="#7fa3b5" stroke-width="1.1" opacity="0.6"/>
<line x1="235.01" y1="427.79" x2="237.69" y2="427.79" stroke="#7fa3b5" stroke-width="1.1" opacity="0.6"/>
<line x1="187.48" y1="444.60" x2="190.16" y2="444.60" stroke="#7fa3b5" stroke-width="1.1" opacity="0.6"/>
<line x1="193.75" y1="444.60" x2="196.43" y2="444.60" stroke="#7fa3b5" stroke-width="1.1" opacity="0.6"/>
<line x1="200.01" y1="444.60" x2="202.69" y2="444.60" stroke="#7fa3b5" stroke-width="1.1" opacity="0.6"/>
<line x1="206.28" y1="444.60" x2="208.96" y2="444.60" stroke="#7fa3b5" stroke-width="1.1" opacity="0.6"/>
<line x1="212.54" y1="444.60" x2="215.22" y2="444.60" stroke="#7fa3b5" stroke-width="1.1" opacity="0.6"/>
<line x1="218.81" y1="444.60" x2="221.49" y2="444.60" stroke="#7fa3b5" stroke-width="1.1" opacity="0.6"/>
<line x1="193.53" y1="429.85" x2="196.66" y2="429.85" stroke="#7fa3b5" stroke-width="1" opacity="0.5"/>
<line x1="198.90" y1="429.85" x2="202.03" y2="429.85" stroke="#7fa3b5" stroke-width="1" opacity="0.5"/>
<line x1="245.44" y1="429.85" x2="248.57" y2="429.85" stroke="#7fa3b5" stroke-width="1" opacity="0.5"/>
<line x1="252.60" y1="429.85" x2="255.73" y2="429.85" stroke="#7fa3b5" stroke-width="1" opacity="0.5"/>
<line x1="187.53" y1="435.75" x2="190.66" y2="435.75" stroke="#7fa3b5" stroke-width="1" opacity="0.5"/>
<line x1="192.90" y1="435.75" x2="196.03" y2="435.75" stroke="#7fa3b5" stroke-width="1" opacity="0.5"/>
<line x1="239.44" y1="435.75" x2="242.57" y2="435.75" stroke="#7fa3b5" stroke-width="1" opacity="0.5"/>
<line x1="246.60" y1="435.75" x2="249.73" y2="435.75" stroke="#7fa3b5" stroke-width="1" opacity="0.5"/>
<line x1="181.53" y1="441.65" x2="184.66" y2="441.65" stroke="#7fa3b5" stroke-width="1" opacity="0.5"/>
<line x1="186.90" y1="441.65" x2="190.03" y2="441.65" stroke="#7fa3b5" stroke-width="1" opacity="0.5"/>
<line x1="233.44" y1="441.65" x2="236.57" y2="441.65" stroke="#7fa3b5" stroke-width="1" opacity="0.5"/>
<line x1="240.60" y1="441.65" x2="243.73" y2="441.65" stroke="#7fa3b5" stroke-width="1" opacity="0.5"/>
<polygon points="206.05,430.74 236.48,430.74 226.88,440.18 196.45,440.18" fill="#2f5268" stroke="#93ad86" stroke-width="0.8"/>
<ellipse cx="217.96" cy="435.31" rx="3.0" ry="2.2" fill="none" stroke="#e6d8a4" stroke-width="1.3"/>
<line x1="218.76" y1="436.11" x2="221.86" y2="437.81" stroke="#e6d8a4" stroke-width="1.2"/>
<line x1="255.62" y1="423.36" x2="245.42" y2="433.39" stroke="#d6dde0" stroke-width="0.8" opacity="0.75"/>
<line x1="258.75" y1="423.36" x2="248.55" y2="433.39" stroke="#d6dde0" stroke-width="0.8" opacity="0.75"/>
<line x1="261.89" y1="423.36" x2="251.69" y2="433.39" stroke="#d6dde0" stroke-width="0.8" opacity="0.75"/>
<line x1="265.02" y1="423.36" x2="254.82" y2="433.39" stroke="#d6dde0" stroke-width="0.8" opacity="0.75"/>
<line x1="250.24" y1="425.13" x2="268.14" y2="425.13" stroke="#d6dde0" stroke-width="0.8" opacity="0.75"/>
<line x1="247.24" y1="428.08" x2="265.14" y2="428.08" stroke="#d6dde0" stroke-width="0.8" opacity="0.75"/>
<line x1="244.24" y1="431.03" x2="262.14" y2="431.03" stroke="#d6dde0" stroke-width="0.8" opacity="0.75"/>
<polygon points="291.00,450.50 380.50,450.50 380.50,455.50 291.00,455.50" fill="#8c6c28"/>
<polygon points="410.50,421.00 410.50,426.00 380.50,455.50 380.50,450.50" fill="#7a5d20"/>
<polygon points="321.00,421.00 410.50,421.00 380.50,450.50 291.00,450.50" fill="#b08d40"/>
<polygon points="324.56,424.54 400.63,424.54 376.34,448.44 300.26,448.44" fill="#2f5068"/>
<line x1="340.95" y1="427.79" x2="343.63" y2="427.79" stroke="#7fa3b5" stroke-width="1.1" opacity="0.6"/>
<line x1="347.22" y1="427.79" x2="349.90" y2="427.79" stroke="#7fa3b5" stroke-width="1.1" opacity="0.6"/>
<line x1="353.48" y1="427.79" x2="356.17" y2="427.79" stroke="#7fa3b5" stroke-width="1.1" opacity="0.6"/>
<line x1="359.75" y1="427.79" x2="362.43" y2="427.79" stroke="#7fa3b5" stroke-width="1.1" opacity="0.6"/>
<line x1="366.01" y1="427.79" x2="368.70" y2="427.79" stroke="#7fa3b5" stroke-width="1.1" opacity="0.6"/>
<line x1="318.48" y1="444.60" x2="321.17" y2="444.60" stroke="#7fa3b5" stroke-width="1.1" opacity="0.6"/>
<line x1="324.75" y1="444.60" x2="327.43" y2="444.60" stroke="#7fa3b5" stroke-width="1.1" opacity="0.6"/>
<line x1="331.01" y1="444.60" x2="333.69" y2="444.60" stroke="#7fa3b5" stroke-width="1.1" opacity="0.6"/>
<line x1="337.27" y1="444.60" x2="339.96" y2="444.60" stroke="#7fa3b5" stroke-width="1.1" opacity="0.6"/>
<line x1="343.54" y1="444.60" x2="346.23" y2="444.60" stroke="#7fa3b5" stroke-width="1.1" opacity="0.6"/>
<line x1="349.81" y1="444.60" x2="352.49" y2="444.60" stroke="#7fa3b5" stroke-width="1.1" opacity="0.6"/>
<line x1="324.53" y1="429.85" x2="327.66" y2="429.85" stroke="#7fa3b5" stroke-width="1" opacity="0.5"/>
<line x1="329.90" y1="429.85" x2="333.03" y2="429.85" stroke="#7fa3b5" stroke-width="1" opacity="0.5"/>
<line x1="376.44" y1="429.85" x2="379.57" y2="429.85" stroke="#7fa3b5" stroke-width="1" opacity="0.5"/>
<line x1="383.60" y1="429.85" x2="386.73" y2="429.85" stroke="#7fa3b5" stroke-width="1" opacity="0.5"/>
<line x1="318.53" y1="435.75" x2="321.66" y2="435.75" stroke="#7fa3b5" stroke-width="1" opacity="0.5"/>
<line x1="323.90" y1="435.75" x2="327.03" y2="435.75" stroke="#7fa3b5" stroke-width="1" opacity="0.5"/>
<line x1="370.44" y1="435.75" x2="373.57" y2="435.75" stroke="#7fa3b5" stroke-width="1" opacity="0.5"/>
<line x1="377.60" y1="435.75" x2="380.73" y2="435.75" stroke="#7fa3b5" stroke-width="1" opacity="0.5"/>
<line x1="312.53" y1="441.65" x2="315.66" y2="441.65" stroke="#7fa3b5" stroke-width="1" opacity="0.5"/>
<line x1="317.90" y1="441.65" x2="321.03" y2="441.65" stroke="#7fa3b5" stroke-width="1" opacity="0.5"/>
<line x1="364.44" y1="441.65" x2="367.57" y2="441.65" stroke="#7fa3b5" stroke-width="1" opacity="0.5"/>
<line x1="371.60" y1="441.65" x2="374.73" y2="441.65" stroke="#7fa3b5" stroke-width="1" opacity="0.5"/>
<polygon points="337.06,430.74 367.49,430.74 357.88,440.18 327.45,440.18" fill="#2f5268" stroke="#93ad86" stroke-width="0.8"/>
<ellipse cx="348.96" cy="435.31" rx="3.0" ry="2.2" fill="none" stroke="#e6d8a4" stroke-width="1.3"/>
<line x1="349.76" y1="436.11" x2="352.86" y2="437.81" stroke="#e6d8a4" stroke-width="1.2"/>
<line x1="386.62" y1="423.36" x2="376.42" y2="433.39" stroke="#d6dde0" stroke-width="0.8" opacity="0.75"/>
<line x1="389.75" y1="423.36" x2="379.55" y2="433.39" stroke="#d6dde0" stroke-width="0.8" opacity="0.75"/>
<line x1="392.89" y1="423.36" x2="382.69" y2="433.39" stroke="#d6dde0" stroke-width="0.8" opacity="0.75"/>
<line x1="396.02" y1="423.36" x2="385.82" y2="433.39" stroke="#d6dde0" stroke-width="0.8" opacity="0.75"/>
<line x1="381.24" y1="425.13" x2="399.14" y2="425.13" stroke="#d6dde0" stroke-width="0.8" opacity="0.75"/>
<line x1="378.24" y1="428.08" x2="396.14" y2="428.08" stroke="#d6dde0" stroke-width="0.8" opacity="0.75"/>
<line x1="375.24" y1="431.03" x2="393.14" y2="431.03" stroke="#d6dde0" stroke-width="0.8" opacity="0.75"/>
<polygon points="422.00,450.50 511.50,450.50 511.50,455.50 422.00,455.50" fill="#8c6c28"/>
<polygon points="541.50,421.00 541.50,426.00 511.50,455.50 511.50,450.50" fill="#7a5d20"/>
<polygon points="452.00,421.00 541.50,421.00 511.50,450.50 422.00,450.50" fill="#b08d40"/>
<polygon points="455.56,424.54 531.63,424.54 507.34,448.44 431.26,448.44" fill="#2f5068"/>
<line x1="471.95" y1="427.79" x2="474.63" y2="427.79" stroke="#7fa3b5" stroke-width="1.1" opacity="0.6"/>
<line x1="478.22" y1="427.79" x2="480.90" y2="427.79" stroke="#7fa3b5" stroke-width="1.1" opacity="0.6"/>
<line x1="484.48" y1="427.79" x2="487.17" y2="427.79" stroke="#7fa3b5" stroke-width="1.1" opacity="0.6"/>
<line x1="490.75" y1="427.79" x2="493.43" y2="427.79" stroke="#7fa3b5" stroke-width="1.1" opacity="0.6"/>
<line x1="497.01" y1="427.79" x2="499.70" y2="427.79" stroke="#7fa3b5" stroke-width="1.1" opacity="0.6"/>
<line x1="449.48" y1="444.60" x2="452.17" y2="444.60" stroke="#7fa3b5" stroke-width="1.1" opacity="0.6"/>
<line x1="455.75" y1="444.60" x2="458.43" y2="444.60" stroke="#7fa3b5" stroke-width="1.1" opacity="0.6"/>
<line x1="462.01" y1="444.60" x2="464.69" y2="444.60" stroke="#7fa3b5" stroke-width="1.1" opacity="0.6"/>
<line x1="468.27" y1="444.60" x2="470.96" y2="444.60" stroke="#7fa3b5" stroke-width="1.1" opacity="0.6"/>
<line x1="474.54" y1="444.60" x2="477.23" y2="444.60" stroke="#7fa3b5" stroke-width="1.1" opacity="0.6"/>
<line x1="480.81" y1="444.60" x2="483.49" y2="444.60" stroke="#7fa3b5" stroke-width="1.1" opacity="0.6"/>
<line x1="455.53" y1="429.85" x2="458.66" y2="429.85" stroke="#7fa3b5" stroke-width="1" opacity="0.5"/>
<line x1="460.90" y1="429.85" x2="464.03" y2="429.85" stroke="#7fa3b5" stroke-width="1" opacity="0.5"/>
<line x1="507.44" y1="429.85" x2="510.57" y2="429.85" stroke="#7fa3b5" stroke-width="1" opacity="0.5"/>
<line x1="514.60" y1="429.85" x2="517.73" y2="429.85" stroke="#7fa3b5" stroke-width="1" opacity="0.5"/>
<line x1="449.53" y1="435.75" x2="452.66" y2="435.75" stroke="#7fa3b5" stroke-width="1" opacity="0.5"/>
<line x1="454.90" y1="435.75" x2="458.03" y2="435.75" stroke="#7fa3b5" stroke-width="1" opacity="0.5"/>
<line x1="501.44" y1="435.75" x2="504.57" y2="435.75" stroke="#7fa3b5" stroke-width="1" opacity="0.5"/>
<line x1="508.60" y1="435.75" x2="511.73" y2="435.75" stroke="#7fa3b5" stroke-width="1" opacity="0.5"/>
<line x1="443.53" y1="441.65" x2="446.66" y2="441.65" stroke="#7fa3b5" stroke-width="1" opacity="0.5"/>
<line x1="448.90" y1="441.65" x2="452.03" y2="441.65" stroke="#7fa3b5" stroke-width="1" opacity="0.5"/>
<line x1="495.44" y1="441.65" x2="498.57" y2="441.65" stroke="#7fa3b5" stroke-width="1" opacity="0.5"/>
<line x1="502.60" y1="441.65" x2="505.73" y2="441.65" stroke="#7fa3b5" stroke-width="1" opacity="0.5"/>
<polygon points="468.06,430.74 498.49,430.74 488.88,440.18 458.45,440.18" fill="#2f5268" stroke="#93ad86" stroke-width="0.8"/>
<ellipse cx="479.96" cy="435.31" rx="3.0" ry="2.2" fill="none" stroke="#e6d8a4" stroke-width="1.3"/>
<line x1="480.76" y1="436.11" x2="483.86" y2="437.81" stroke="#e6d8a4" stroke-width="1.2"/>
<line x1="517.62" y1="423.36" x2="507.42" y2="433.39" stroke="#d6dde0" stroke-width="0.8" opacity="0.75"/>
<line x1="520.75" y1="423.36" x2="510.55" y2="433.39" stroke="#d6dde0" stroke-width="0.8" opacity="0.75"/>
<line x1="523.88" y1="423.36" x2="513.68" y2="433.39" stroke="#d6dde0" stroke-width="0.8" opacity="0.75"/>
<line x1="527.02" y1="423.36" x2="516.82" y2="433.39" stroke="#d6dde0" stroke-width="0.8" opacity="0.75"/>
<line x1="512.24" y1="425.13" x2="530.14" y2="425.13" stroke="#d6dde0" stroke-width="0.8" opacity="0.75"/>
<line x1="509.24" y1="428.08" x2="527.14" y2="428.08" stroke="#d6dde0" stroke-width="0.8" opacity="0.75"/>
<line x1="506.24" y1="431.03" x2="524.14" y2="431.03" stroke="#d6dde0" stroke-width="0.8" opacity="0.75"/>
<polygon points="518.70,104.50 518.70,109.70 450.50,179.20 450.50,174.00" fill="#8f7c55"/>
<polygon points="143.00,174.50 450.50,174.00 450.50,179.20 143.70,179.70" fill="#a8946a"/>
<line x1="143.70" y1="179.70" x2="450.50" y2="179.20" stroke="#7c6a45" stroke-width="1"/>
<polygon points="214.00,104.00 518.70,104.50 450.50,174.00 143.00,174.50" fill="#ccb98f"/>
<line x1="214.00" y1="104.00" x2="518.70" y2="104.50" stroke="#b7a57c" stroke-width="0.8"/>
<polygon points="216.00,108.60 250.30,109.20 239.10,123.70 204.80,123.10" fill="#d7b355" stroke="#bd9441" stroke-width="1.1" stroke-linejoin="round"/>
<rect x="219.81" y="111.55" width="6.8" height="3.4" rx="1.2" fill="#c0a042" stroke="#74621e" stroke-width="0.9"/>
<line x1="223.21" y1="111.85" x2="223.21" y2="114.65" stroke="#74621e" stroke-width="0.6" opacity="0.7"/>
<rect x="234.00" y="111.85" width="6.8" height="3.4" rx="1.2" fill="#c0a042" stroke="#74621e" stroke-width="0.9"/>
<line x1="237.41" y1="112.15" x2="237.41" y2="114.95" stroke="#74621e" stroke-width="0.6" opacity="0.7"/>
<rect x="214.30" y="117.35" width="6.8" height="3.4" rx="1.2" fill="#c0a042" stroke="#74621e" stroke-width="0.9"/>
<line x1="217.70" y1="117.65" x2="217.70" y2="120.45" stroke="#74621e" stroke-width="0.6" opacity="0.7"/>
<rect x="228.50" y="117.65" width="6.8" height="3.4" rx="1.2" fill="#c0a042" stroke="#74621e" stroke-width="0.9"/>
<line x1="231.90" y1="117.95" x2="231.90" y2="120.75" stroke="#74621e" stroke-width="0.6" opacity="0.7"/>
<polygon points="264.00,108.60 298.30,109.20 287.10,123.70 252.80,123.10" fill="#d7b355" stroke="#bd9441" stroke-width="1.1" stroke-linejoin="round"/>
<rect x="267.81" y="111.55" width="6.8" height="3.4" rx="1.2" fill="#c0a042" stroke="#74621e" stroke-width="0.9"/>
<line x1="271.21" y1="111.85" x2="271.21" y2="114.65" stroke="#74621e" stroke-width="0.6" opacity="0.7"/>
<rect x="282.01" y="111.85" width="6.8" height="3.4" rx="1.2" fill="#c0a042" stroke="#74621e" stroke-width="0.9"/>
<line x1="285.41" y1="112.15" x2="285.41" y2="114.95" stroke="#74621e" stroke-width="0.6" opacity="0.7"/>
<rect x="262.30" y="117.35" width="6.8" height="3.4" rx="1.2" fill="#c0a042" stroke="#74621e" stroke-width="0.9"/>
<line x1="265.69" y1="117.65" x2="265.69" y2="120.45" stroke="#74621e" stroke-width="0.6" opacity="0.7"/>
<rect x="276.50" y="117.65" width="6.8" height="3.4" rx="1.2" fill="#c0a042" stroke="#74621e" stroke-width="0.9"/>
<line x1="279.89" y1="117.95" x2="279.89" y2="120.75" stroke="#74621e" stroke-width="0.6" opacity="0.7"/>
<polygon points="312.40,108.60 346.70,109.20 335.50,123.70 301.20,123.10" fill="#d7b355" stroke="#bd9441" stroke-width="1.1" stroke-linejoin="round"/>
<rect x="316.21" y="111.55" width="6.8" height="3.4" rx="1.2" fill="#c0a042" stroke="#74621e" stroke-width="0.9"/>
<line x1="319.61" y1="111.85" x2="319.61" y2="114.65" stroke="#74621e" stroke-width="0.6" opacity="0.7"/>
<rect x="330.41" y="111.85" width="6.8" height="3.4" rx="1.2" fill="#c0a042" stroke="#74621e" stroke-width="0.9"/>
<line x1="333.81" y1="112.15" x2="333.81" y2="114.95" stroke="#74621e" stroke-width="0.6" opacity="0.7"/>
<rect x="310.69" y="117.35" width="6.8" height="3.4" rx="1.2" fill="#c0a042" stroke="#74621e" stroke-width="0.9"/>
<line x1="314.09" y1="117.65" x2="314.09" y2="120.45" stroke="#74621e" stroke-width="0.6" opacity="0.7"/>
<rect x="324.89" y="117.65" width="6.8" height="3.4" rx="1.2" fill="#c0a042" stroke="#74621e" stroke-width="0.9"/>
<line x1="328.29" y1="117.95" x2="328.29" y2="120.75" stroke="#74621e" stroke-width="0.6" opacity="0.7"/>
<polygon points="362.70,108.60 397.00,109.20 385.80,123.70 351.50,123.10" fill="#d7b355" stroke="#bd9441" stroke-width="1.1" stroke-linejoin="round"/>
<rect x="366.50" y="111.55" width="6.8" height="3.4" rx="1.2" fill="#c0a042" stroke="#74621e" stroke-width="0.9"/>
<line x1="369.90" y1="111.85" x2="369.90" y2="114.65" stroke="#74621e" stroke-width="0.6" opacity="0.7"/>
<rect x="380.71" y="111.85" width="6.8" height="3.4" rx="1.2" fill="#c0a042" stroke="#74621e" stroke-width="0.9"/>
<line x1="384.11" y1="112.15" x2="384.11" y2="114.95" stroke="#74621e" stroke-width="0.6" opacity="0.7"/>
<rect x="361.00" y="117.35" width="6.8" height="3.4" rx="1.2" fill="#c0a042" stroke="#74621e" stroke-width="0.9"/>
<line x1="364.39" y1="117.65" x2="364.39" y2="120.45" stroke="#74621e" stroke-width="0.6" opacity="0.7"/>
<rect x="375.20" y="117.65" width="6.8" height="3.4" rx="1.2" fill="#c0a042" stroke="#74621e" stroke-width="0.9"/>
<line x1="378.60" y1="117.95" x2="378.60" y2="120.75" stroke="#74621e" stroke-width="0.6" opacity="0.7"/>
<polygon points="412.70,108.60 447.00,109.20 435.80,123.70 401.50,123.10" fill="#d7b355" stroke="#bd9441" stroke-width="1.1" stroke-linejoin="round"/>
<rect x="416.50" y="111.55" width="6.8" height="3.4" rx="1.2" fill="#c0a042" stroke="#74621e" stroke-width="0.9"/>
<line x1="419.90" y1="111.85" x2="419.90" y2="114.65" stroke="#74621e" stroke-width="0.6" opacity="0.7"/>
<rect x="430.71" y="111.85" width="6.8" height="3.4" rx="1.2" fill="#c0a042" stroke="#74621e" stroke-width="0.9"/>
<line x1="434.11" y1="112.15" x2="434.11" y2="114.95" stroke="#74621e" stroke-width="0.6" opacity="0.7"/>
<rect x="411.00" y="117.35" width="6.8" height="3.4" rx="1.2" fill="#c0a042" stroke="#74621e" stroke-width="0.9"/>
<line x1="414.39" y1="117.65" x2="414.39" y2="120.45" stroke="#74621e" stroke-width="0.6" opacity="0.7"/>
<rect x="425.20" y="117.65" width="6.8" height="3.4" rx="1.2" fill="#c0a042" stroke="#74621e" stroke-width="0.9"/>
<line x1="428.60" y1="117.95" x2="428.60" y2="120.75" stroke="#74621e" stroke-width="0.6" opacity="0.7"/>
<polygon points="464.60,108.60 498.90,109.20 487.70,123.70 453.40,123.10" fill="#d7b355" stroke="#bd9441" stroke-width="1.1" stroke-linejoin="round"/>
<rect x="468.41" y="111.55" width="6.8" height="3.4" rx="1.2" fill="#c0a042" stroke="#74621e" stroke-width="0.9"/>
<line x1="471.81" y1="111.85" x2="471.81" y2="114.65" stroke="#74621e" stroke-width="0.6" opacity="0.7"/>
<rect x="482.61" y="111.85" width="6.8" height="3.4" rx="1.2" fill="#c0a042" stroke="#74621e" stroke-width="0.9"/>
<line x1="486.01" y1="112.15" x2="486.01" y2="114.95" stroke="#74621e" stroke-width="0.6" opacity="0.7"/>
<rect x="462.90" y="117.35" width="6.8" height="3.4" rx="1.2" fill="#c0a042" stroke="#74621e" stroke-width="0.9"/>
<line x1="466.30" y1="117.65" x2="466.30" y2="120.45" stroke="#74621e" stroke-width="0.6" opacity="0.7"/>
<rect x="477.10" y="117.65" width="6.8" height="3.4" rx="1.2" fill="#c0a042" stroke="#74621e" stroke-width="0.9"/>
<line x1="480.50" y1="117.95" x2="480.50" y2="120.75" stroke="#74621e" stroke-width="0.6" opacity="0.7"/>
<polygon points="195.50,129.40 230.00,130.00 218.40,144.70 183.90,144.10" fill="#d7b355" stroke="#bd9441" stroke-width="1.1" stroke-linejoin="round"/>
<rect x="199.24" y="132.41" width="6.8" height="3.4" rx="1.2" fill="#c0a042" stroke="#74621e" stroke-width="0.9"/>
<line x1="202.64" y1="132.71" x2="202.64" y2="135.51" stroke="#74621e" stroke-width="0.6" opacity="0.7"/>
<rect x="213.44" y="132.71" width="6.8" height="3.4" rx="1.2" fill="#c0a042" stroke="#74621e" stroke-width="0.9"/>
<line x1="216.84" y1="133.01" x2="216.84" y2="135.81" stroke="#74621e" stroke-width="0.6" opacity="0.7"/>
<rect x="193.66" y="138.29" width="6.8" height="3.4" rx="1.2" fill="#c0a042" stroke="#74621e" stroke-width="0.9"/>
<line x1="197.06" y1="138.59" x2="197.06" y2="141.39" stroke="#74621e" stroke-width="0.6" opacity="0.7"/>
<rect x="207.86" y="138.59" width="6.8" height="3.4" rx="1.2" fill="#c0a042" stroke="#74621e" stroke-width="0.9"/>
<line x1="211.26" y1="138.89" x2="211.26" y2="141.69" stroke="#74621e" stroke-width="0.6" opacity="0.7"/>
<polygon points="242.50,129.40 277.00,130.00 265.40,144.70 230.90,144.10" fill="#d7b355" stroke="#bd9441" stroke-width="1.1" stroke-linejoin="round"/>
<rect x="246.24" y="132.41" width="6.8" height="3.4" rx="1.2" fill="#c0a042" stroke="#74621e" stroke-width="0.9"/>
<line x1="249.64" y1="132.71" x2="249.64" y2="135.51" stroke="#74621e" stroke-width="0.6" opacity="0.7"/>
<rect x="260.44" y="132.71" width="6.8" height="3.4" rx="1.2" fill="#c0a042" stroke="#74621e" stroke-width="0.9"/>
<line x1="263.84" y1="133.01" x2="263.84" y2="135.81" stroke="#74621e" stroke-width="0.6" opacity="0.7"/>
<rect x="240.66" y="138.29" width="6.8" height="3.4" rx="1.2" fill="#c0a042" stroke="#74621e" stroke-width="0.9"/>
<line x1="244.06" y1="138.59" x2="244.06" y2="141.39" stroke="#74621e" stroke-width="0.6" opacity="0.7"/>
<rect x="254.86" y="138.59" width="6.8" height="3.4" rx="1.2" fill="#c0a042" stroke="#74621e" stroke-width="0.9"/>
<line x1="258.26" y1="138.89" x2="258.26" y2="141.69" stroke="#74621e" stroke-width="0.6" opacity="0.7"/>
<polygon points="292.30,129.40 326.80,130.00 315.20,144.70 280.70,144.10" fill="#d7b355" stroke="#bd9441" stroke-width="1.1" stroke-linejoin="round"/>
<rect x="296.04" y="132.41" width="6.8" height="3.4" rx="1.2" fill="#c0a042" stroke="#74621e" stroke-width="0.9"/>
<line x1="299.44" y1="132.71" x2="299.44" y2="135.51" stroke="#74621e" stroke-width="0.6" opacity="0.7"/>
<rect x="310.24" y="132.71" width="6.8" height="3.4" rx="1.2" fill="#c0a042" stroke="#74621e" stroke-width="0.9"/>
<line x1="313.64" y1="133.01" x2="313.64" y2="135.81" stroke="#74621e" stroke-width="0.6" opacity="0.7"/>
<rect x="290.46" y="138.29" width="6.8" height="3.4" rx="1.2" fill="#c0a042" stroke="#74621e" stroke-width="0.9"/>
<line x1="293.86" y1="138.59" x2="293.86" y2="141.39" stroke="#74621e" stroke-width="0.6" opacity="0.7"/>
<rect x="304.66" y="138.59" width="6.8" height="3.4" rx="1.2" fill="#c0a042" stroke="#74621e" stroke-width="0.9"/>
<line x1="308.06" y1="138.89" x2="308.06" y2="141.69" stroke="#74621e" stroke-width="0.6" opacity="0.7"/>
<polygon points="341.70,129.40 376.20,130.00 364.60,144.70 330.10,144.10" fill="#d7b355" stroke="#bd9441" stroke-width="1.1" stroke-linejoin="round"/>
<rect x="345.44" y="132.41" width="6.8" height="3.4" rx="1.2" fill="#c0a042" stroke="#74621e" stroke-width="0.9"/>
<line x1="348.84" y1="132.71" x2="348.84" y2="135.51" stroke="#74621e" stroke-width="0.6" opacity="0.7"/>
<rect x="359.64" y="132.71" width="6.8" height="3.4" rx="1.2" fill="#c0a042" stroke="#74621e" stroke-width="0.9"/>
<line x1="363.04" y1="133.01" x2="363.04" y2="135.81" stroke="#74621e" stroke-width="0.6" opacity="0.7"/>
<rect x="339.86" y="138.29" width="6.8" height="3.4" rx="1.2" fill="#c0a042" stroke="#74621e" stroke-width="0.9"/>
<line x1="343.26" y1="138.59" x2="343.26" y2="141.39" stroke="#74621e" stroke-width="0.6" opacity="0.7"/>
<rect x="354.06" y="138.59" width="6.8" height="3.4" rx="1.2" fill="#c0a042" stroke="#74621e" stroke-width="0.9"/>
<line x1="357.46" y1="138.89" x2="357.46" y2="141.69" stroke="#74621e" stroke-width="0.6" opacity="0.7"/>
<polygon points="391.00,129.40 425.50,130.00 413.90,144.70 379.40,144.10" fill="#d7b355" stroke="#bd9441" stroke-width="1.1" stroke-linejoin="round"/>
<rect x="394.74" y="132.41" width="6.8" height="3.4" rx="1.2" fill="#c0a042" stroke="#74621e" stroke-width="0.9"/>
<line x1="398.14" y1="132.71" x2="398.14" y2="135.51" stroke="#74621e" stroke-width="0.6" opacity="0.7"/>
<rect x="408.94" y="132.71" width="6.8" height="3.4" rx="1.2" fill="#c0a042" stroke="#74621e" stroke-width="0.9"/>
<line x1="412.34" y1="133.01" x2="412.34" y2="135.81" stroke="#74621e" stroke-width="0.6" opacity="0.7"/>
<rect x="389.16" y="138.29" width="6.8" height="3.4" rx="1.2" fill="#c0a042" stroke="#74621e" stroke-width="0.9"/>
<line x1="392.56" y1="138.59" x2="392.56" y2="141.39" stroke="#74621e" stroke-width="0.6" opacity="0.7"/>
<rect x="403.36" y="138.59" width="6.8" height="3.4" rx="1.2" fill="#c0a042" stroke="#74621e" stroke-width="0.9"/>
<line x1="406.76" y1="138.89" x2="406.76" y2="141.69" stroke="#74621e" stroke-width="0.6" opacity="0.7"/>
<polygon points="441.00,129.40 475.50,130.00 463.90,144.70 429.40,144.10" fill="#d7b355" stroke="#bd9441" stroke-width="1.1" stroke-linejoin="round"/>
<rect x="444.74" y="132.41" width="6.8" height="3.4" rx="1.2" fill="#c0a042" stroke="#74621e" stroke-width="0.9"/>
<line x1="448.14" y1="132.71" x2="448.14" y2="135.51" stroke="#74621e" stroke-width="0.6" opacity="0.7"/>
<rect x="458.94" y="132.71" width="6.8" height="3.4" rx="1.2" fill="#c0a042" stroke="#74621e" stroke-width="0.9"/>
<line x1="462.34" y1="133.01" x2="462.34" y2="135.81" stroke="#74621e" stroke-width="0.6" opacity="0.7"/>
<rect x="439.16" y="138.29" width="6.8" height="3.4" rx="1.2" fill="#c0a042" stroke="#74621e" stroke-width="0.9"/>
<line x1="442.56" y1="138.59" x2="442.56" y2="141.39" stroke="#74621e" stroke-width="0.6" opacity="0.7"/>
<rect x="453.36" y="138.59" width="6.8" height="3.4" rx="1.2" fill="#c0a042" stroke="#74621e" stroke-width="0.9"/>
<line x1="456.76" y1="138.89" x2="456.76" y2="141.69" stroke="#74621e" stroke-width="0.6" opacity="0.7"/>
<polygon points="175.00,151.60 210.00,152.20 197.80,167.00 162.80,166.40" fill="#d7b355" stroke="#bd9441" stroke-width="1.1" stroke-linejoin="round"/>
<rect x="178.71" y="154.64" width="6.8" height="3.4" rx="1.2" fill="#c0a042" stroke="#74621e" stroke-width="0.9"/>
<line x1="182.11" y1="154.94" x2="182.11" y2="157.74" stroke="#74621e" stroke-width="0.6" opacity="0.7"/>
<rect x="192.91" y="154.94" width="6.8" height="3.4" rx="1.2" fill="#c0a042" stroke="#74621e" stroke-width="0.9"/>
<line x1="196.31" y1="155.24" x2="196.31" y2="158.04" stroke="#74621e" stroke-width="0.6" opacity="0.7"/>
<rect x="173.09" y="160.56" width="6.8" height="3.4" rx="1.2" fill="#c0a042" stroke="#74621e" stroke-width="0.9"/>
<line x1="176.49" y1="160.86" x2="176.49" y2="163.66" stroke="#74621e" stroke-width="0.6" opacity="0.7"/>
<rect x="187.29" y="160.86" width="6.8" height="3.4" rx="1.2" fill="#c0a042" stroke="#74621e" stroke-width="0.9"/>
<line x1="190.69" y1="161.16" x2="190.69" y2="163.96" stroke="#74621e" stroke-width="0.6" opacity="0.7"/>
<polygon points="222.50,151.60 257.50,152.20 245.30,167.00 210.30,166.40" fill="#d7b355" stroke="#bd9441" stroke-width="1.1" stroke-linejoin="round"/>
<rect x="226.21" y="154.64" width="6.8" height="3.4" rx="1.2" fill="#c0a042" stroke="#74621e" stroke-width="0.9"/>
<line x1="229.61" y1="154.94" x2="229.61" y2="157.74" stroke="#74621e" stroke-width="0.6" opacity="0.7"/>
<rect x="240.41" y="154.94" width="6.8" height="3.4" rx="1.2" fill="#c0a042" stroke="#74621e" stroke-width="0.9"/>
<line x1="243.81" y1="155.24" x2="243.81" y2="158.04" stroke="#74621e" stroke-width="0.6" opacity="0.7"/>
<rect x="220.59" y="160.56" width="6.8" height="3.4" rx="1.2" fill="#c0a042" stroke="#74621e" stroke-width="0.9"/>
<line x1="223.99" y1="160.86" x2="223.99" y2="163.66" stroke="#74621e" stroke-width="0.6" opacity="0.7"/>
<rect x="234.79" y="160.86" width="6.8" height="3.4" rx="1.2" fill="#c0a042" stroke="#74621e" stroke-width="0.9"/>
<line x1="238.19" y1="161.16" x2="238.19" y2="163.96" stroke="#74621e" stroke-width="0.6" opacity="0.7"/>
<polygon points="270.00,151.60 305.00,152.20 292.80,167.00 257.80,166.40" fill="#d7b355" stroke="#bd9441" stroke-width="1.1" stroke-linejoin="round"/>
<rect x="273.71" y="154.64" width="6.8" height="3.4" rx="1.2" fill="#c0a042" stroke="#74621e" stroke-width="0.9"/>
<line x1="277.11" y1="154.94" x2="277.11" y2="157.74" stroke="#74621e" stroke-width="0.6" opacity="0.7"/>
<rect x="287.91" y="154.94" width="6.8" height="3.4" rx="1.2" fill="#c0a042" stroke="#74621e" stroke-width="0.9"/>
<line x1="291.31" y1="155.24" x2="291.31" y2="158.04" stroke="#74621e" stroke-width="0.6" opacity="0.7"/>
<rect x="268.09" y="160.56" width="6.8" height="3.4" rx="1.2" fill="#c0a042" stroke="#74621e" stroke-width="0.9"/>
<line x1="271.49" y1="160.86" x2="271.49" y2="163.66" stroke="#74621e" stroke-width="0.6" opacity="0.7"/>
<rect x="282.29" y="160.86" width="6.8" height="3.4" rx="1.2" fill="#c0a042" stroke="#74621e" stroke-width="0.9"/>
<line x1="285.69" y1="161.16" x2="285.69" y2="163.96" stroke="#74621e" stroke-width="0.6" opacity="0.7"/>
<polygon points="320.00,151.60 355.00,152.20 342.80,167.00 307.80,166.40" fill="#d7b355" stroke="#bd9441" stroke-width="1.1" stroke-linejoin="round"/>
<rect x="323.71" y="154.64" width="6.8" height="3.4" rx="1.2" fill="#c0a042" stroke="#74621e" stroke-width="0.9"/>
<line x1="327.11" y1="154.94" x2="327.11" y2="157.74" stroke="#74621e" stroke-width="0.6" opacity="0.7"/>
<rect x="337.91" y="154.94" width="6.8" height="3.4" rx="1.2" fill="#c0a042" stroke="#74621e" stroke-width="0.9"/>
<line x1="341.31" y1="155.24" x2="341.31" y2="158.04" stroke="#74621e" stroke-width="0.6" opacity="0.7"/>
<rect x="318.09" y="160.56" width="6.8" height="3.4" rx="1.2" fill="#c0a042" stroke="#74621e" stroke-width="0.9"/>
<line x1="321.49" y1="160.86" x2="321.49" y2="163.66" stroke="#74621e" stroke-width="0.6" opacity="0.7"/>
<rect x="332.29" y="160.86" width="6.8" height="3.4" rx="1.2" fill="#c0a042" stroke="#74621e" stroke-width="0.9"/>
<line x1="335.69" y1="161.16" x2="335.69" y2="163.96" stroke="#74621e" stroke-width="0.6" opacity="0.7"/>
<polygon points="369.50,151.60 404.50,152.20 392.30,167.00 357.30,166.40" fill="#d7b355" stroke="#bd9441" stroke-width="1.1" stroke-linejoin="round"/>
<rect x="373.21" y="154.64" width="6.8" height="3.4" rx="1.2" fill="#c0a042" stroke="#74621e" stroke-width="0.9"/>
<line x1="376.61" y1="154.94" x2="376.61" y2="157.74" stroke="#74621e" stroke-width="0.6" opacity="0.7"/>
<rect x="387.41" y="154.94" width="6.8" height="3.4" rx="1.2" fill="#c0a042" stroke="#74621e" stroke-width="0.9"/>
<line x1="390.81" y1="155.24" x2="390.81" y2="158.04" stroke="#74621e" stroke-width="0.6" opacity="0.7"/>
<rect x="367.59" y="160.56" width="6.8" height="3.4" rx="1.2" fill="#c0a042" stroke="#74621e" stroke-width="0.9"/>
<line x1="370.99" y1="160.86" x2="370.99" y2="163.66" stroke="#74621e" stroke-width="0.6" opacity="0.7"/>
<rect x="381.79" y="160.86" width="6.8" height="3.4" rx="1.2" fill="#c0a042" stroke="#74621e" stroke-width="0.9"/>
<line x1="385.19" y1="161.16" x2="385.19" y2="163.96" stroke="#74621e" stroke-width="0.6" opacity="0.7"/>
<polygon points="420.40,151.60 455.40,152.20 443.20,167.00 408.20,166.40" fill="#d7b355" stroke="#bd9441" stroke-width="1.1" stroke-linejoin="round"/>
<rect x="424.11" y="154.64" width="6.8" height="3.4" rx="1.2" fill="#c0a042" stroke="#74621e" stroke-width="0.9"/>
<line x1="427.51" y1="154.94" x2="427.51" y2="157.74" stroke="#74621e" stroke-width="0.6" opacity="0.7"/>
<rect x="438.31" y="154.94" width="6.8" height="3.4" rx="1.2" fill="#c0a042" stroke="#74621e" stroke-width="0.9"/>
<line x1="441.71" y1="155.24" x2="441.71" y2="158.04" stroke="#74621e" stroke-width="0.6" opacity="0.7"/>
<rect x="418.49" y="160.56" width="6.8" height="3.4" rx="1.2" fill="#c0a042" stroke="#74621e" stroke-width="0.9"/>
<line x1="421.89" y1="160.86" x2="421.89" y2="163.66" stroke="#74621e" stroke-width="0.6" opacity="0.7"/>
<rect x="432.69" y="160.86" width="6.8" height="3.4" rx="1.2" fill="#c0a042" stroke="#74621e" stroke-width="0.9"/>
<line x1="436.09" y1="161.16" x2="436.09" y2="163.96" stroke="#74621e" stroke-width="0.6" opacity="0.7"/>
<polygon points="318.88,152.00 331.60,152.00 292.40,348.00 263.75,348.00" fill="url(#beamL)"/>
<polygon points="328.32,152.00 340.45,152.00 421.30,348.00 403.05,348.00" fill="url(#beamR)"/>
<path d="M323.25,153.00 L323.02,153.33 L322.79,153.67 L322.57,154.00 L322.36,154.33 L322.16,154.67 L321.97,155.00 L321.80,155.33 L321.63,155.67 L321.48,156.00 L321.34,156.33 L321.22,156.67 L321.11,157.00 L321.02,157.33 L320.95,157.67 L320.90,158.00 L320.87,158.33 L320.85,158.67 L320.85,159.00 L320.88,159.33 L320.92,159.67 L320.98,160.00 L321.06,160.33 L321.15,160.67 L321.27,161.00 L321.40,161.33 L321.55,161.67 L321.71,162.00 L321.89,162.33 L322.08,162.67 L322.28,163.00 L322.49,163.33 L322.71,163.67 L322.94,164.00 L323.18,164.33 L323.41,164.67 L323.66,165.00 L323.90,165.33 L324.14,165.67 L324.38,166.00 L324.61,166.33 L324.84,166.67 L325.05,167.00 L325.26,167.33 L325.46,167.67 L325.64,168.00 L325.80,168.33 L325.95,168.67 L326.08,169.00 L326.18,169.33 L326.27,169.67 L326.33,170.00 L326.36,170.33 L326.37,170.67 L326.35,171.00 L326.30,171.33 L326.22,171.67 L326.12,172.00 L325.98,172.33 L325.81,172.67 L325.61,173.00 L325.39,173.33 L325.13,173.67 L324.84,174.00 L324.52,174.33 L324.17,174.67 L323.80,175.00 L323.40,175.33 L322.97,175.67 L322.52,176.00 L322.05,176.33 L321.56,176.67 L321.05,177.00 L320.52,177.33 L319.98,177.67 L319.43,178.00 L318.86,178.33 L318.29,178.67 L317.72,179.00 L317.14,179.33 L316.57,179.67 L316.00,180.00 L315.43,180.33 L314.88,180.67 L314.33,181.00 L313.80,181.33 L313.29,181.67 L312.80,182.00 L312.33,182.33 L311.89,182.67 L311.47,183.00 L311.08,183.33 L310.73,183.67 L310.41,184.00 L310.12,184.33 L309.88,184.67 L309.67,185.00 L309.50,185.33 L309.37,185.67 L309.28,186.00 L309.24,186.33 L309.24,186.67 L309.29,187.00 L309.37,187.33 L309.50,187.67 L309.67,188.00 L309.89,188.33 L310.14,188.67 L310.44,189.00 L310.77,189.33 L311.13,189.67 L311.54,190.00 L311.97,190.33 L312.43,190.67 L312.92,191.00 L313.44,191.33 L313.97,191.67 L314.52,192.00 L315.09,192.33 L315.67,192.67 L316.26,193.00 L316.85,193.33 L317.44,193.67 L318.03,194.00 L318.61,194.33 L319.19,194.67 L319.75,195.00 L320.26,195.33 L320.74,195.67 L321.19,196.00 L321.60,196.33 L321.98,196.67 L322.32,197.00 L322.62,197.33 L322.88,197.67 L323.09,198.00 L323.25,198.33 L323.37,198.67 L323.43,199.00 L323.45,199.33 L323.42,199.67 L323.33,200.00 L323.19,200.33 L323.01,200.67 L322.77,201.00 L322.48,201.33 L322.15,201.67 L321.76,202.00 L321.34,202.33 L320.86,202.67 L320.35,203.00 L319.80,203.33 L319.21,203.67 L318.59,204.00 L317.94,204.33 L317.25,204.67 L316.55,205.00 L315.82,205.33 L315.07,205.67 L314.31,206.00 L313.54,206.33 L312.77,206.67 L311.99,207.00 L311.21,207.33 L310.43,207.67 L309.66,208.00 L308.91,208.33 L308.17,208.67 L307.45,209.00 L306.75,209.33 L306.08,209.67 L305.44,210.00 L304.83,210.33 L304.26,210.67 L303.72,211.00 L303.23,211.33 L302.77,211.67 L302.37,212.00 L302.01,212.33 L301.70,212.67 L301.43,213.00 L301.22,213.33 L301.06,213.67 L300.96,214.00 L300.90,214.33 L300.90,214.67 L300.95,215.00 L301.04,215.33 L301.19,215.67 L301.39,216.00 L301.64,216.33 L301.93,216.67 L302.26,217.00 L302.64,217.33 L303.05,217.67 L303.51,218.00 L303.99,218.33 L304.50,218.67 L305.05,219.00 L305.61,219.33 L306.19,219.67 L306.80,220.00 L307.41,220.33 L308.03,220.67 L308.66,221.00 L309.28,221.33 L309.91,221.67 L310.52,222.00 L311.13,222.33 L311.72,222.67 L312.29,223.00 L312.84,223.33 L313.37,223.67 L313.87,224.00 L314.33,224.33 L314.76,224.67 L315.15,225.00 L315.49,225.33 L315.80,225.67 L316.06,226.00 L316.27,226.33 L316.43,226.67 L316.55,227.00 L316.61,227.33 L316.62,227.67 L316.57,228.00 L316.47,228.33 L316.32,228.67 L316.12,229.00 L315.86,229.33 L315.55,229.67 L315.19,230.00 L314.79,230.33 L314.33,230.67 L313.84,231.00 L313.30,231.33 L312.72,231.67 L312.10,232.00 L311.45,232.33 L310.77,232.67 L310.06,233.00 L309.32,233.33 L308.57,233.67 L307.80,234.00 L307.02,234.33 L306.23,234.67 L305.43,235.00 L304.64,235.33 L303.84,235.67 L303.06,236.00 L302.29,236.33 L301.53,236.67 L300.79,237.00 L300.08,237.33 L299.39,237.67 L298.73,238.00 L298.11,238.33 L297.52,238.67 L296.97,239.00 L296.47,239.33 L296.01,239.67 L295.59,240.00 L295.23,240.33 L294.91,240.67 L294.65,241.00 L294.44,241.33 L294.29,241.67 L294.19,242.00 L294.14,242.33 L294.15,242.67 L294.21,243.00 L294.33,243.33 L294.49,243.67 L294.71,244.00 L294.98,244.33 L295.29,244.67 L295.65,245.00 L296.05,245.33 L296.49,245.67 L296.97,246.00 L297.48,246.33 L298.02,246.67 L298.58,247.00 L299.17,247.33 L299.78,247.67 L300.40,248.00 L301.04,248.33 L301.68,248.67 L302.32,249.00 L302.96,249.33 L303.60,249.67 L304.22,250.00 L304.83,250.33 L305.42,250.67 L305.99,251.00 L306.54,251.33 L307.05,251.67 L307.54,252.00 L307.98,252.33 L308.39,252.67 L308.75,253.00 L309.07,253.33 L309.34,253.67 L309.57,254.00 L309.74,254.33 L309.86,254.67 L309.92,255.00 L309.93,255.33 L309.88,255.67 L309.78,256.00 L309.63,256.33 L309.41,256.67 L309.15,257.00 L308.83,257.33 L308.46,257.67 L308.03,258.00 L307.56,258.33 L307.05,258.67 L306.49,259.00 L305.89,259.33 L305.25,259.67 L304.58,260.00 L303.87,260.33 L303.14,260.67 L302.38,261.00 L301.61,261.33 L300.82,261.67 L300.02,262.00 L299.21,262.33 L298.40,262.67 L297.59,263.00 L296.79,263.33 L295.99,263.67 L295.21,264.00 L294.45,264.33 L293.71,264.67 L293.00,265.00 L292.32,265.33 L291.67,265.67 L291.06,266.00 L290.49,266.33 L289.97,266.67 L289.49,267.00 L289.06,267.33 L288.67,267.67 L288.35,268.00 L288.07,268.33 L287.85,268.67 L287.69,269.00 L287.58,269.33 L287.53,269.67 L287.54,270.00 L287.60,270.33 L287.72,270.67 L287.89,271.00 L288.11,271.33 L288.39,271.67 L288.72,272.00 L289.09,272.33 L289.50,272.67 L289.96,273.00 L290.45,273.33 L290.98,273.67 L291.54,274.00 L292.12,274.33 L292.73,274.67 L293.35,275.00 L293.99,275.33 L294.65,275.67 L295.30,276.00 L295.96,276.33 L296.61,276.67 L297.26,277.00 L297.89,277.33 L298.51,277.67 L299.11,278.00 L299.68,278.33 L300.23,278.67 L300.74,279.00 L301.21,279.33 L301.65,279.67 L302.04,280.00 L302.39,280.33 L302.68,280.67 L302.93,281.00 L303.13,281.33 L303.27,281.67 L303.35,282.00 L303.38,282.33 L303.35,282.67 L303.27,283.00 L303.12,283.33 L302.92,283.67 L302.66,284.00 L302.35,284.33 L301.98,284.67 L301.55,285.00 L301.08,285.33 L300.56,285.67 L299.99,286.00 L299.38,286.33 L298.74,286.67 L298.05,287.00 L297.33,287.33 L296.59,287.67 L295.82,288.00 L295.03,288.33 L294.22,288.67 L293.41,289.00 L292.58,289.33 L291.76,289.67 L290.93,290.00 L290.12,290.33 L289.31,290.67 L288.52,291.00 L287.75,291.33 L287.01,291.67 L286.29,292.00 L285.61,292.33 L284.96,292.67 L284.36,293.00 L283.79,293.33 L283.28,293.67 L282.81,294.00 L282.39,294.33 L282.03,294.67 L281.72,295.00 L281.47,295.33 L281.27,295.67 L281.14,296.00 L281.06,296.33 L281.05,296.67 L281.09,297.00 L281.19,297.33 L281.35,297.67 L281.56,298.00 L281.83,298.33 L282.14,298.67 L282.51,299.00 L282.92,299.33 L283.38,299.67 L284.18,300.00 L284.68,300.33 L285.21,300.67 L285.77,301.00 L286.35,301.33 L286.95,301.67 L287.57,302.00 L288.19,302.33 L288.82,302.67 L289.46,303.00 L290.09,303.33 L290.71,303.67 L291.32,304.00 L291.91,304.33 L292.48,304.67 L293.03,305.00 L293.55,305.33 L294.04,305.67 L294.49,306.00 L294.90,306.33 L295.27,306.67 L295.60,307.00 L295.87,307.33 L296.10,307.67 L296.27,308.00 L296.39,308.33 L296.45,308.67 L296.46,309.00 L296.41,309.33 L296.31,309.67 L296.14,310.00 L295.92,310.33 L295.65,310.67 L295.32,311.00 L294.94,311.33 L294.50,311.67 L294.02,312.00 L293.49,312.33 L292.92,312.67 L292.31,313.00 L291.66,313.33 L290.98,313.67 L290.26,314.00 L289.53,314.33 L288.77,314.67 L287.99,315.00 L287.20,315.33 L286.41,315.67 L285.60,316.00 L284.81,316.33 L284.01,316.67 L283.23,317.00 L282.46,317.33 L281.71,317.67 L280.98,318.00 L280.29,318.33 L279.62,318.67 L278.99,319.00 L278.40,319.33 L277.85,319.67 L277.34,320.00 L276.89,320.33 L276.48,320.67 L276.13,321.00 L275.83,321.33 L275.59,321.67 L275.40,322.00 L275.27,322.33 L275.20,322.67 L275.19,323.00 L275.24,323.33 L275.34,323.67 L275.50,324.00 L275.71,324.33 L275.98,324.67 L276.29,325.00 L276.66,325.33 L277.07,325.67 L277.52,326.00 L278.00,326.33 L278.53,326.67 L279.08,327.00 L279.66,327.33 L280.26,327.67 L280.88,328.00 L281.51,328.33 L282.16,328.67 L282.80,329.00 L283.45,329.33 L284.09,329.67 L284.72,330.00 L285.33,330.33 L285.93,330.67 L286.50,331.00 L287.04,331.33 L287.55,331.67 L288.03,332.00 L288.46,332.33 L288.85,332.67 L289.20,333.00 L289.50,333.33 L289.74,333.67 L289.93,334.00 L290.07,334.33 L290.15,334.67 L290.17,335.00 L290.13,335.33 L290.03,335.67 L289.87,336.00 L289.66,336.33 L289.38,336.67 L289.05,337.00 L288.67,337.33 L288.23,337.67 L287.74,338.00 L287.20,338.33 L286.62,338.67 L286.00,339.00 L285.33,339.33 L284.64,339.67 L283.91,340.00 L283.13,340.33 L282.32,340.67 L281.49,341.00" fill="none" stroke="#d8604f" stroke-width="1.6" stroke-linejoin="round" stroke-linecap="round" opacity="0.92"/>
<path d="M282.32,340.67 L281.49,341.00 L280.66,341.33 L279.81,341.67 L278.96,342.00 L278.12,342.33 L277.28,342.67 L276.46,343.00 L275.65,343.33 L274.86,343.67 L274.09,344.00 L273.36,344.33 L272.66,344.67 L272.00,345.00 L271.39,345.33 L270.81,345.67 L270.29,346.00 L269.82,346.33 L269.40,346.67 L269.03,347.00 L268.72,347.33 L268.48,347.67 L268.29,348.00 L268.16,348.33 L268.09,348.67 L268.08,349.00 L268.13,349.33 L268.24,349.67 L268.41,350.00 L268.63,350.33 L268.91,350.67 L269.23,351.00 L269.60,351.33 L270.02,351.67 L270.48,352.00 L270.97,352.33 L271.49,352.67 L272.05,353.00 L272.63,353.33 L273.22,353.67 L273.84,354.00 L274.46,354.33 L275.08,354.67 L275.71,355.00 L276.33,355.33 L276.94,355.67 L277.53,356.00 L278.11,356.33 L278.66,356.67 L279.18,357.00 L279.66,357.33 L280.11,357.67 L280.52,358.00 L280.88,358.33 L281.20,358.67 L281.46,359.00 L281.67,359.33 L281.82,359.67 L281.91,360.00 L281.95,360.33 L281.92,360.67 L281.84,361.00 L281.69,361.33 L281.48,361.67 L281.21,362.00 L280.88,362.33 L280.49,362.67 L280.04,363.00 L279.55,363.33 L279.00,363.67 L278.40,364.00 L277.75,364.33 L277.07,364.67 L276.35,365.00 L275.59,365.33 L274.80,365.67 L273.99,366.00 L273.16,366.33 L272.32,366.67 L271.46,367.00 L270.60,367.33 L269.74,367.67 L268.89,368.00 L268.04,368.33 L267.22,368.67 L266.41,369.00 L265.63,369.33 L264.88,369.67 L264.16,370.00 L263.48,370.33 L262.84,370.67 L262.25,371.00 L261.71,371.33 L261.22,371.67 L260.79,372.00 L260.41,372.33 L260.10,372.67 L259.84,373.00 L259.65,373.33 L259.52,373.67 L259.45,374.00 L259.44,374.33 L259.49,374.67 L259.61,375.00 L259.78,375.33 L260.01,375.67 L260.30,376.00 L260.63,376.33 L261.02,376.67 L261.45,377.00 L261.92,377.33 L262.43,377.67 L262.98,378.00 L263.55,378.33 L264.14,378.67 L264.76,379.00 L265.38,379.33 L266.02,379.67 L266.66,380.00 L267.30,380.33 L267.93,380.67 L268.55,381.00 L269.15,381.33 L269.72,381.67 L270.27,382.00 L270.79,382.33 L271.27,382.67 L271.71,383.00 L272.11,383.33 L272.46,383.67 L272.75,384.00 L272.99,384.33 L273.18,384.67 L273.30,385.00 L273.36,385.33 L273.36,385.67 L273.30,386.00 L273.18,386.33 L272.99,386.67 L272.74,387.00 L272.42,387.33 L272.05,387.67 L271.61,388.00 L271.12,388.33 L270.58,388.67 L269.98,389.00 L269.34,389.33 L268.65,389.67 L267.93,390.00 L267.16,390.33 L266.37,390.67 L265.55,391.00 L264.71,391.33 L263.85,391.67 L262.98,392.00 L262.11,392.33 L261.24,392.67 L260.37,393.00 L259.52,393.33 L258.67,393.67 L257.86,394.00 L257.06,394.33 L256.30,394.67 L255.58,395.00 L254.94,395.33 L254.36,395.67 L253.84,396.00 L253.37,396.33 L252.97,396.67 L252.62,397.00 L252.34,397.33 L252.12,397.67 L251.96,398.00 L251.86,398.33 L251.82,398.67 L251.83,399.00 L251.91,399.33 L252.04,399.67 L252.22,400.00 L252.44,400.33 L252.72,400.67 L253.03,401.00 L253.38,401.33 L253.76,401.67 L254.17,402.00 L254.61,402.33 L255.06,402.67 L255.53,403.00 L256.01,403.33 L256.50,403.67 L256.98,404.00 L257.46,404.33 L257.93,404.67 L258.40,405.00 L258.84,405.33 L259.26,405.67 L259.66,406.00 L260.03,406.33 L260.37,406.67 L260.68,407.00 L260.95,407.33 L261.18,407.67 L261.37,408.00 L261.52,408.33 L261.63,408.67 L261.69,409.00 L261.71,409.33 L261.69,409.67 L261.62,410.00 L261.51,410.33 L261.36,410.67 L261.17,411.00 L260.94,411.33 L260.67,411.67 L260.37,412.00 L260.03,412.33 L259.67,412.67 L259.28,413.00 L258.86,413.33 L258.43,413.67 L257.97,414.00 L257.51,414.33 L257.03,414.67 L256.54,415.00 L256.05,415.33 L255.56,415.67 L255.07,416.00 L254.58,416.33 L254.11,416.67 L253.64,417.00 L253.19,417.33 L252.75,417.67 L252.33,418.00 L251.93,418.33 L251.56,418.67 L251.20,419.00 L250.88,419.33 L250.57,419.67 L250.30,420.00 L250.05,420.33 L249.82,420.67 L249.63,421.00" fill="none" stroke="#e4776a" stroke-width="1.8" stroke-linejoin="round" stroke-linecap="round" opacity="0.78"/>
<path d="M334.48,153.00 L334.40,153.33 L334.31,153.67 L334.21,154.00 L334.10,154.33 L333.99,154.67 L333.87,155.00 L333.75,155.33 L333.63,155.67 L333.52,156.00 L333.41,156.33 L333.31,156.67 L333.22,157.00 L333.15,157.33 L333.08,157.67 L333.04,158.00 L333.02,158.33 L333.01,158.67 L333.04,159.00 L333.08,159.33 L333.15,159.67 L333.25,160.00 L333.38,160.33 L333.54,160.67 L333.73,161.00 L333.95,161.33 L334.20,161.67 L334.47,162.00 L334.78,162.33 L335.12,162.67 L335.48,163.00 L335.87,163.33 L336.28,163.67 L336.71,164.00 L337.16,164.33 L337.63,164.67 L338.12,165.00 L338.61,165.33 L339.12,165.67 L339.63,166.00 L340.14,166.33 L340.65,166.67 L341.15,167.00 L341.64,167.33 L342.13,167.67 L342.59,168.00 L343.04,168.33 L343.47,168.67 L343.87,169.00 L344.24,169.33 L344.58,169.67 L344.89,170.00 L345.16,170.33 L345.39,170.67 L345.58,171.00 L345.73,171.33 L345.84,171.67 L345.91,172.00 L345.93,172.33 L345.91,172.67 L345.85,173.00 L345.75,173.33 L345.61,173.67 L345.43,174.00 L345.21,174.33 L344.97,174.67 L344.69,175.00 L344.39,175.33 L344.06,175.67 L343.72,176.00 L343.35,176.33 L342.98,176.67 L342.61,177.00 L342.23,177.33 L341.85,177.67 L341.49,178.00 L341.13,178.33 L340.80,178.67 L340.49,179.00 L340.20,179.33 L339.95,179.67 L339.73,180.00 L339.55,180.33 L339.41,180.67 L339.33,181.00 L339.29,181.33 L339.30,181.67 L339.36,182.00 L339.48,182.33 L339.66,182.67 L339.89,183.00 L340.18,183.33 L340.53,183.67 L340.93,184.00 L341.38,184.33 L341.88,184.67 L342.43,185.00 L343.05,185.33 L343.70,185.67 L344.38,186.00 L345.08,186.33 L345.81,186.67 L346.54,187.00 L347.28,187.33 L348.03,187.67 L348.77,188.00 L349.50,188.33 L350.22,188.67 L350.91,189.00 L351.58,189.33 L352.22,189.67 L352.81,190.00 L353.37,190.33 L353.89,190.67 L354.35,191.00 L354.76,191.33 L355.12,191.67 L355.42,192.00 L355.66,192.33 L355.84,192.67 L355.96,193.00 L356.01,193.33 L356.01,193.67 L355.95,194.00 L355.83,194.33 L355.66,194.67 L355.43,195.00 L355.16,195.33 L354.84,195.67 L354.48,196.00 L354.09,196.33 L353.66,196.67 L353.21,197.00 L352.74,197.33 L352.25,197.67 L351.76,198.00 L351.27,198.33 L350.78,198.67 L350.30,199.00 L349.84,199.33 L349.40,199.67 L348.99,200.00 L348.62,200.33 L348.28,200.67 L347.99,201.00 L347.75,201.33 L347.55,201.67 L347.42,202.00 L347.34,202.33 L347.32,202.67 L347.36,203.00 L347.47,203.33 L347.64,203.67 L347.88,204.00 L348.17,204.33 L348.53,204.67 L348.95,205.00 L349.42,205.33 L349.94,205.67 L350.51,206.00 L351.13,206.33 L351.79,206.67 L352.48,207.00 L353.19,207.33 L353.94,207.67 L354.69,208.00 L355.46,208.33 L356.23,208.67 L357.00,209.00 L357.76,209.33 L358.50,209.67 L359.22,210.00 L359.91,210.33 L360.57,210.67 L361.18,211.00 L361.75,211.33 L362.28,211.67 L362.74,212.00 L363.15,212.33 L363.50,212.67 L363.79,213.00 L364.01,213.33 L364.17,213.67 L364.26,214.00 L364.29,214.33 L364.25,214.67 L364.15,215.00 L363.98,215.33 L363.76,215.67 L363.49,216.00 L363.16,216.33 L362.80,216.67 L362.39,217.00 L361.94,217.33 L361.47,217.67 L360.98,218.00 L360.47,218.33 L359.95,218.67 L359.43,219.00 L358.92,219.33 L358.42,219.67 L357.94,220.00 L357.48,220.33 L357.06,220.67 L356.68,221.00 L356.33,221.33 L356.04,221.67 L355.80,222.00 L355.62,222.33 L355.51,222.67 L355.45,223.00 L355.46,223.33 L355.54,223.67 L355.69,224.00 L355.91,224.33 L356.19,224.67 L356.54,225.00 L356.96,225.33 L357.43,225.67 L357.96,226.00 L358.55,226.33 L359.18,226.67 L359.86,227.00 L360.57,227.33 L361.31,227.67 L362.08,228.00 L362.86,228.33 L363.66,228.67 L364.45,229.00 L365.24,229.33 L366.02,229.67 L366.78,230.00 L367.51,230.33 L368.21,230.67 L368.87,231.00 L369.48,231.33 L370.04,231.67 L370.55,232.00 L370.99,232.33 L371.37,232.67 L371.69,233.00 L371.93,233.33 L372.11,233.67 L372.21,234.00 L372.24,234.33 L372.21,234.67 L372.10,235.00 L371.93,235.33 L371.70,235.67 L371.41,236.00 L371.06,236.33 L370.67,236.67 L370.24,237.00 L369.77,237.33 L369.27,237.67 L368.75,238.00 L368.21,238.33 L367.67,238.67 L367.13,239.00 L366.59,239.33 L366.08,239.67 L365.58,240.00 L365.12,240.33 L364.70,240.67 L364.32,241.00 L364.00,241.33 L363.72,241.67 L363.51,242.00 L363.37,242.33 L363.29,242.67 L363.28,243.00 L363.35,243.33 L363.49,243.67 L363.70,244.00 L363.99,244.33 L364.35,244.67 L364.77,245.00 L365.26,245.33 L365.81,245.67 L366.42,246.00 L367.08,246.33 L367.78,246.67 L368.53,247.00 L369.30,247.33 L370.09,247.67 L370.91,248.00 L371.72,248.33 L372.54,248.67 L373.35,249.00 L374.14,249.33 L374.91,249.67 L375.64,250.00 L376.34,250.33 L376.99,250.67 L377.58,251.00 L378.12,251.33 L378.59,251.67 L379.00,252.00 L379.33,252.33 L379.59,252.67 L379.78,253.00 L379.89,253.33 L379.92,253.67 L379.88,254.00 L379.76,254.33 L379.58,254.67 L379.33,255.00 L379.01,255.33 L378.65,255.67 L378.23,256.00 L377.76,256.33 L377.26,256.67 L376.73,257.00 L376.18,257.33 L375.62,257.67 L375.05,258.00 L374.49,258.33 L373.94,258.67 L373.42,259.00 L372.92,259.33 L372.46,259.67 L372.05,260.00 L371.68,260.33 L371.38,260.67 L371.14,261.00 L370.97,261.33 L370.87,261.67 L370.84,262.00 L370.89,262.33 L371.02,262.67 L371.23,263.00 L371.52,263.33 L371.88,263.67 L372.32,264.00 L372.83,264.33 L373.40,264.67 L374.03,265.00 L374.72,265.33 L375.45,265.67 L376.22,266.00 L377.02,266.33 L377.84,266.67 L378.68,267.00 L379.52,267.33 L380.36,267.67 L381.18,268.00 L381.99,268.33 L382.76,268.67 L383.49,269.00 L384.18,269.33 L384.81,269.67 L385.39,270.00 L385.89,270.33 L386.33,270.67 L386.69,271.00 L386.98,271.33 L387.18,271.67 L387.30,272.00 L387.34,272.33 L387.30,272.67 L387.19,273.00 L387.00,273.33 L386.73,273.67 L386.40,274.00 L386.02,274.33 L385.57,274.67 L385.09,275.00 L384.56,275.33 L384.01,275.67 L383.43,276.00 L382.84,276.33 L382.25,276.67 L381.67,277.00 L381.11,277.33 L380.57,277.67 L380.07,278.00 L379.61,278.33 L379.20,278.67 L378.85,279.00 L378.57,279.33 L378.36,279.67 L378.22,280.00 L378.16,280.33 L378.18,280.67 L378.29,281.00 L378.48,281.33 L378.75,281.67 L379.11,282.00 L379.54,282.33 L380.05,282.67 L380.63,283.00 L381.27,283.33 L381.97,283.67 L382.72,284.00 L383.51,284.33 L384.33,284.67 L385.18,285.00 L386.04,285.33 L386.90,285.67 L387.76,286.00 L388.61,286.33 L389.42,286.67 L390.21,287.00 L390.95,287.33 L391.63,287.67 L392.26,288.00 L392.82,288.33 L393.31,288.67 L393.72,289.00 L394.05,289.33 L394.30,289.67 L394.46,290.00 L394.53,290.33 L394.52,290.67 L394.43,291.00 L394.25,291.33 L394.00,291.67 L393.67,292.00 L393.28,292.33 L392.83,292.67 L392.33,293.00 L391.79,293.33 L391.22,293.67 L390.62,294.00 L390.01,294.33 L389.40,294.67 L388.80,295.00 L388.22,295.33 L387.66,295.67 L387.14,296.00 L386.67,296.33 L386.26,296.67 L385.91,297.00 L385.63,297.33 L385.42,297.67 L385.30,298.00 L385.26,298.33 L385.31,298.67 L385.45,299.00 L385.67,299.33 L385.99,299.67 L386.38,300.00 L386.86,300.33 L387.42,300.67 L388.05,301.00 L388.74,301.33 L389.49,301.67 L390.29,302.00 L391.12,302.33 L391.98,302.67 L392.86,303.00 L393.75,303.33 L394.63,303.67 L395.50,304.00 L396.34,304.33 L397.14,304.67 L397.91,305.00 L398.61,305.33 L399.26,305.67 L399.83,306.00 L400.33,306.33 L400.75,306.67 L401.08,307.00 L401.32,307.33 L401.47,307.67 L401.52,308.00 L401.49,308.33 L401.37,308.67 L401.16,309.00 L400.88,309.33 L400.52,309.67 L400.09,310.00 L399.61,310.33 L399.07,310.67 L398.50,311.00 L397.89,311.33 L397.27,311.67 L396.63,312.00 L396.01,312.33 L395.39,312.67 L394.80,313.00 L394.25,313.33 L393.75,313.67 L393.30,314.00 L392.91,314.33 L392.60,314.67 L392.37,315.00 L392.22,315.33 L392.16,315.67 L392.19,316.00 L392.32,316.33 L392.54,316.67 L392.85,317.00 L393.26,317.33 L393.75,317.67 L394.32,318.00 L394.96,318.33 L395.67,318.67 L396.45,319.00 L397.27,319.33 L398.12,319.67 L399.01,320.00 L399.91,320.33 L400.82,320.67 L401.72,321.00 L402.60,321.33 L403.45,321.67 L404.26,322.00 L405.02,322.33 L405.72,322.67 L406.35,323.00 L406.90,323.33 L407.36,323.67 L407.74,324.00 L408.03,324.33 L408.22,324.67 L408.31,325.00 L408.30,325.33 L408.21,325.67 L408.02,326.00 L407.74,326.33 L407.39,326.67 L406.96,327.00 L406.47,327.33 L405.93,327.67 L405.34,328.00 L404.72,328.33 L404.07,328.67 L403.42,329.00 L402.77,329.33 L402.14,329.67 L401.53,330.00 L400.96,330.33 L400.44,330.67 L399.98,331.00 L399.59,331.33 L399.28,331.67 L399.05,332.00 L398.91,332.33 L398.87,332.67 L398.93,333.00 L399.08,333.33 L399.33,333.67 L399.68,334.00 L400.13,334.33 L400.66,334.67 L401.27,335.00 L401.97,335.33 L402.72,335.67 L403.54,336.00 L404.40,336.33 L405.29,336.67 L406.21,337.00 L407.14,337.33 L408.06,337.67 L408.97,338.00 L409.85,338.33 L410.69,338.67 L411.48,339.00 L412.21,339.33 L412.87,339.67 L413.44,340.00 L413.92,340.33 L414.30,340.67 L414.58,341.00" fill="none" stroke="#d8604f" stroke-width="1.6" stroke-linejoin="round" stroke-linecap="round" opacity="0.92"/>
<path d="M414.30,340.67 L414.58,341.00 L414.76,341.33 L414.84,341.67 L414.82,342.00 L414.70,342.33 L414.48,342.67 L414.18,343.00 L413.79,343.33 L413.32,343.67 L412.79,344.00 L412.20,344.33 L411.57,344.67 L410.91,345.00 L410.23,345.33 L409.54,345.67 L408.85,346.00 L408.19,346.33 L407.56,346.67 L406.97,347.00 L406.44,347.33 L405.98,347.67 L405.59,348.00 L405.29,348.33 L405.08,348.67 L404.97,349.00 L404.96,349.33 L405.05,349.67 L405.25,350.00 L405.39,350.33 L405.83,350.67 L406.37,351.00 L406.99,351.33 L407.68,351.67 L408.44,352.00 L409.26,352.33 L410.12,352.67 L411.01,353.00 L411.92,353.33 L412.82,353.67 L413.72,354.00 L414.60,354.33 L415.43,354.67 L416.22,355.00 L416.96,355.33 L417.62,355.67 L418.20,356.00 L418.71,356.33 L419.12,356.67 L419.44,357.00 L419.66,357.33 L419.78,357.67 L419.81,358.00 L419.75,358.33 L419.60,358.67 L419.36,359.00 L419.04,359.33 L418.66,359.67 L418.22,360.00 L417.73,360.33 L417.20,360.67 L416.64,361.00 L416.07,361.33 L415.50,361.67 L414.94,362.00 L414.39,362.33 L413.88,362.67 L413.41,363.00 L412.99,363.33 L412.64,363.67 L412.35,364.00 L412.13,364.33 L411.99,364.67 L411.94,365.00 L411.97,365.33 L412.08,365.67 L412.28,366.00 L412.56,366.33 L412.91,366.67 L413.34,367.00 L413.83,367.33 L414.38,367.67 L414.97,368.00 L415.61,368.33 L416.28,368.67 L416.97,369.00 L417.67,369.33 L418.37,369.67 L419.05,370.00 L419.72,370.33 L420.35,370.67 L420.95,371.00 L421.50,371.33 L421.99,371.67 L422.43,372.00 L422.80,372.33 L423.10,372.67 L423.34,373.00 L423.50,373.33 L423.59,373.67 L423.61,374.00 L423.56,374.33 L423.45,374.67 L423.29,375.00 L423.07,375.33 L422.81,375.67 L422.51,376.00 L422.18,376.33 L421.83,376.67 L421.47,377.00 L421.11,377.33 L420.75,377.67 L420.41,378.00 L420.09,378.33 L419.81,378.67 L419.55,379.00 L419.34,379.33 L419.18,379.67 L419.07,380.00 L419.02,380.33 L419.02,380.67 L419.08,381.00 L419.20,381.33 L419.38,381.67 L419.61,382.00 L419.89,382.33 L420.21,382.67 L420.58,383.00 L420.99,383.33 L421.42,383.67 L421.88,384.00 L422.35,384.33 L422.84,384.67 L423.32,385.00 L423.80,385.33 L424.27,385.67 L424.72,386.00 L425.15,386.33 L425.55,386.67 L425.91,387.00 L426.24,387.33 L426.53,387.67 L426.77,388.00 L426.97,388.33 L427.12,388.67 L427.24,389.00 L427.30,389.33 L427.33,389.67 L427.35,390.00" fill="none" stroke="#e4776a" stroke-width="1.8" stroke-linejoin="round" stroke-linecap="round" opacity="0.78"/>
<path d="M102.5,211.2 L132.0,215.3 L145.0,206.2 L160.8,208.7 L153.3,217.8 L176.0,222.0 L186.0,212.8 L205.0,217.0 L195.8,227.0 L218.3,229.5 L228.3,220.3 L244.2,222.8 L233.3,232.8 L256.7,237.8 L251.5,244.0 L225.5,240.2 L215.8,252.0 L233.3,258.2 L228.0,264.0 L210.0,258.5 L196.0,272.5 L210.7,277.3 L207.0,283.3 L186.0,278.0 L169.5,293.5 L148.5,290.5 L158.5,278.0 L139.2,274.5 L127.5,285.7 L107.5,282.8 L122.5,271.2 L97.5,267.0 L86.0,278.0 L66.7,275.3 L78.3,263.7 L56.7,259.5 L56.7,252.8 L89.2,257.8 L104.2,243.7 L80.0,239.0 L80.0,232.0 L113.3,233.7 L127.5,221.7 L102.5,218.7 Z M143.3,226.2 L165.0,230.0 L152.5,242.0 L130.3,237.8 Z M185.5,233.0 L207.0,238.0 L195.5,249.5 L172.0,244.5 Z M120.5,246.6 L142.5,250.8 L129.6,262.8 L108.0,258.2 Z M161.7,255.0 L183.3,259.5 L170.8,271.2 L149.2,266.2 Z" fill="#8b8b8b" fill-rule="evenodd"/>
<path d="M102.5,209.2 L132.0,213.3 L145.0,204.2 L160.8,206.7 L153.3,215.8 L176.0,220.0 L186.0,210.8 L205.0,215.0 L195.8,225.0 L218.3,227.5 L228.3,218.3 L244.2,220.8 L233.3,230.8 L256.7,235.8 L251.5,242.0 L225.5,238.2 L215.8,250.0 L233.3,256.2 L228.0,262.0 L210.0,256.5 L196.0,270.5 L210.7,275.3 L207.0,281.3 L186.0,276.0 L169.5,291.5 L148.5,288.5 L158.5,276.0 L139.2,272.5 L127.5,283.7 L107.5,280.8 L122.5,269.2 L97.5,265.0 L86.0,276.0 L66.7,273.3 L78.3,261.7 L56.7,257.5 L56.7,250.8 L89.2,255.8 L104.2,241.7 L80.0,237.0 L80.0,230.0 L113.3,231.7 L127.5,219.7 L102.5,216.7 Z M143.3,224.2 L165.0,228.0 L152.5,240.0 L130.3,235.8 Z M185.5,231.0 L207.0,236.0 L195.5,247.5 L172.0,242.5 Z M120.5,244.6 L142.5,248.8 L129.6,260.8 L108.0,256.2 Z M161.7,253.0 L183.3,257.5 L170.8,269.2 L149.2,264.2 Z" fill="#a5a5a5" fill-rule="evenodd"/>
<polygon points="66.70,273.30 86.00,276.00 86.00,278.80 66.70,276.10" fill="#2e2e2e"/>
<polygon points="107.50,280.80 127.50,283.70 127.50,286.50 107.50,283.60" fill="#2e2e2e"/>
<polygon points="148.50,288.50 169.50,291.50 169.50,294.30 148.50,291.30" fill="#2e2e2e"/>
<polygon points="253.50,235.10 256.70,235.80 251.50,244.00 248.30,243.30" fill="#3d3d3d"/>
<polygon points="230.10,255.50 233.30,256.20 228.00,264.00 224.80,263.30" fill="#3d3d3d"/>
<polygon points="207.50,274.60 210.70,275.30 207.00,283.30 203.80,282.60" fill="#3d3d3d"/>
<path d="M254.5,239.8 L264,241.3 L264,265.5" fill="none" stroke="#2a2a2a" stroke-width="1.0"/>
<circle cx="264.00" cy="252.50" r="3.7" fill="#fff" stroke="#2a2a2a" stroke-width="0.8"/>
<text x="264.00" y="254.20" text-anchor="middle" style="font-size:4.6px;fill:#444;stroke:none">A</text>
<line x1="260.60" y1="265.50" x2="267.40" y2="265.50" stroke="#2a2a2a" stroke-width="1.0"/>
<line x1="261.90" y1="267.10" x2="266.10" y2="267.10" stroke="#2a2a2a" stroke-width="0.8"/>
<line x1="263.10" y1="268.60" x2="264.90" y2="268.60" stroke="#2a2a2a" stroke-width="0.7"/>
<path d="M231,260 L241.75,261.5 L241.75,286" fill="none" stroke="#2a2a2a" stroke-width="1.0"/>
<circle cx="241.75" cy="273.00" r="3.7" fill="#fff" stroke="#2a2a2a" stroke-width="0.8"/>
<text x="241.75" y="274.70" text-anchor="middle" style="font-size:4.6px;fill:#444;stroke:none">A</text>
<line x1="238.35" y1="286.00" x2="245.15" y2="286.00" stroke="#2a2a2a" stroke-width="1.0"/>
<line x1="239.65" y1="287.60" x2="243.85" y2="287.60" stroke="#2a2a2a" stroke-width="0.8"/>
<line x1="240.85" y1="289.10" x2="242.65" y2="289.10" stroke="#2a2a2a" stroke-width="0.7"/>
<path d="M209,279.3 L218.75,280.8 L218.75,307.8" fill="none" stroke="#2a2a2a" stroke-width="1.0"/>
<circle cx="218.75" cy="293.75" r="3.7" fill="#fff" stroke="#2a2a2a" stroke-width="0.8"/>
<text x="218.75" y="295.45" text-anchor="middle" style="font-size:4.6px;fill:#444;stroke:none">A</text>
<line x1="215.35" y1="307.80" x2="222.15" y2="307.80" stroke="#2a2a2a" stroke-width="1.0"/>
<line x1="216.65" y1="309.40" x2="220.85" y2="309.40" stroke="#2a2a2a" stroke-width="0.8"/>
<line x1="217.85" y1="310.90" x2="219.65" y2="310.90" stroke="#2a2a2a" stroke-width="0.7"/>
<path d="M71,277.5 Q68.7,280.5 68.7,285.5 L68.7,303.5" fill="none" stroke="#2a2a2a" stroke-width="1.0"/>
<circle cx="68.70" cy="291.30" r="3.7" fill="#fff" stroke="#2a2a2a" stroke-width="0.8"/>
<text x="68.70" y="293.00" text-anchor="middle" style="font-size:4.6px;fill:#444;stroke:none">A</text>
<line x1="65.30" y1="303.50" x2="72.10" y2="303.50" stroke="#2a2a2a" stroke-width="1.0"/>
<line x1="66.60" y1="305.10" x2="70.80" y2="305.10" stroke="#2a2a2a" stroke-width="0.8"/>
<line x1="67.80" y1="306.60" x2="69.60" y2="306.60" stroke="#2a2a2a" stroke-width="0.7"/>
<path d="M112,284.5 Q109.2,287.5 109.2,292.5 L109.2,311.7" fill="none" stroke="#2a2a2a" stroke-width="1.0"/>
<circle cx="109.20" cy="299.20" r="3.7" fill="#fff" stroke="#2a2a2a" stroke-width="0.8"/>
<text x="109.20" y="300.90" text-anchor="middle" style="font-size:4.6px;fill:#444;stroke:none">A</text>
<line x1="105.80" y1="311.70" x2="112.60" y2="311.70" stroke="#2a2a2a" stroke-width="1.0"/>
<line x1="107.10" y1="313.30" x2="111.30" y2="313.30" stroke="#2a2a2a" stroke-width="0.8"/>
<line x1="108.30" y1="314.80" x2="110.10" y2="314.80" stroke="#2a2a2a" stroke-width="0.7"/>
<path d="M153.5,292.5 Q150.8,295.5 150.8,300.5 L150.8,319.2" fill="none" stroke="#2a2a2a" stroke-width="1.0"/>
<circle cx="150.80" cy="306.70" r="3.7" fill="#fff" stroke="#2a2a2a" stroke-width="0.8"/>
<text x="150.80" y="308.40" text-anchor="middle" style="font-size:4.6px;fill:#444;stroke:none">A</text>
<line x1="147.40" y1="319.20" x2="154.20" y2="319.20" stroke="#2a2a2a" stroke-width="1.0"/>
<line x1="148.70" y1="320.80" x2="152.90" y2="320.80" stroke="#2a2a2a" stroke-width="0.8"/>
<line x1="149.90" y1="322.30" x2="151.70" y2="322.30" stroke="#2a2a2a" stroke-width="0.7"/>
<line x1="156.00" y1="202.00" x2="240.00" y2="216.00" stroke="#2a2a2a" stroke-width="1.2"/>
<circle cx="156.00" cy="202.00" r="1.5" fill="#2a2a2a"/>
<circle cx="240.00" cy="216.00" r="1.5" fill="#2a2a2a"/>
<circle cx="197.50" cy="209.20" r="1.5" fill="#2a2a2a"/>
<path d="M197.5,209.2 L222.4,186.5 L222.4,211" fill="none" stroke="#2a2a2a" stroke-width="1.0"/>
<circle cx="222.40" cy="197.30" r="3.4" fill="#fff" stroke="#2a2a2a" stroke-width="0.8"/>
<line x1="219.00" y1="211.30" x2="225.80" y2="211.30" stroke="#2a2a2a" stroke-width="1.0"/>
<line x1="220.30" y1="212.90" x2="224.50" y2="212.90" stroke="#2a2a2a" stroke-width="0.8"/>
<line x1="221.50" y1="214.40" x2="223.30" y2="214.40" stroke="#2a2a2a" stroke-width="0.7"/>
<line x1="101.70" y1="209.20" x2="55.00" y2="250.00" stroke="#2a2a2a" stroke-width="1.2"/>
<circle cx="101.70" cy="209.20" r="1.5" fill="#2a2a2a"/>
<circle cx="55.00" cy="250.00" r="1.5" fill="#2a2a2a"/>
<circle cx="77.50" cy="230.00" r="1.5" fill="#2a2a2a"/>
<path d="M77.5,230 L47.5,225 L47.5,249" fill="none" stroke="#2a2a2a" stroke-width="1.0"/>
<circle cx="47.50" cy="236.00" r="3.7" fill="#fff" stroke="#2a2a2a" stroke-width="0.8"/>
<line x1="44.10" y1="249.00" x2="50.90" y2="249.00" stroke="#2a2a2a" stroke-width="1.0"/>
<line x1="45.40" y1="250.60" x2="49.60" y2="250.60" stroke="#2a2a2a" stroke-width="0.8"/>
<line x1="46.60" y1="252.10" x2="48.40" y2="252.10" stroke="#2a2a2a" stroke-width="0.7"/>
<line x1="55.00" y1="250.00" x2="58.00" y2="251.00" stroke="#2a2a2a" stroke-width="0.8"/>
<line x1="197.00" y1="222.40" x2="205.50" y2="215.80" stroke="#222" stroke-width="0.7"/>
<circle cx="197.00" cy="222.40" r="0.8" fill="#222"/>
<circle cx="205.50" cy="215.80" r="0.8" fill="#222"/>
<text x="204.5" y="222.5" style="font-size:5px;font-style:italic;fill:#555;stroke:none">l</text>
<line x1="238.60" y1="230.20" x2="258.00" y2="234.00" stroke="#222" stroke-width="0.7"/>
<circle cx="238.60" cy="230.20" r="0.8" fill="#222"/>
<circle cx="258.00" cy="234.00" r="0.8" fill="#222"/>
<text x="249" y="229.5" style="font-size:5px;font-style:italic;fill:#555;stroke:none">l</text>
<line x1="184.60" y1="233.20" x2="205.50" y2="237.00" stroke="#222" stroke-width="0.7"/>
<circle cx="184.60" cy="233.20" r="0.8" fill="#222"/>
<circle cx="205.50" cy="237.00" r="0.8" fill="#222"/>
<text x="192.5" y="241" style="font-size:5px;font-style:italic;fill:#555;stroke:none">l</text>
<line x1="213.50" y1="250.50" x2="222.00" y2="243.50" stroke="#222" stroke-width="0.7"/>
<circle cx="213.50" cy="250.50" r="0.8" fill="#222"/>
<circle cx="222.00" cy="243.50" r="0.8" fill="#222"/>
<text x="221" y="250.5" style="font-size:5px;font-style:italic;fill:#555;stroke:none">l</text>
<line x1="205.50" y1="237.00" x2="232.00" y2="236.50" stroke="#dcdcdc" stroke-width="0.9" stroke-dasharray="1.2 1"/>
<text x="229" y="199" style="font-size:4.5px;fill:#555;stroke:none">V</text>
<text x="242" y="215" style="font-size:4.5px;fill:#555;stroke:none">l</text>
<text x="36" y="231" style="font-size:4.5px;fill:#777;stroke:none">V</text>
<path d="M220.6,206.5 L222.5,209.3 L224.4,206.5" fill="none" stroke="#2a2a2a" stroke-width="0.8"/>
<ellipse cx="75.8" cy="183" rx="22.5" ry="22" fill="none" stroke="#7d7d7d" stroke-width="1.2" stroke-dasharray="2.8 2"/>
<polygon points="55.00,179.50 68.00,172.00 96.80,176.30 96.80,188.00 93.00,194.00 56.00,189.00" fill="#8a8585"/>
<polygon points="57.50,180.30 69.00,173.20 95.00,177.00 90.00,183.00" fill="#b2adad"/>
<polygon points="56.50,181.00 90.00,183.60 93.00,193.20 56.50,188.50" fill="#7c7777"/>
<line x1="57.00" y1="184.20" x2="91.00" y2="187.20" stroke="#a7a2a2" stroke-width="0.8"/>
<line x1="57.00" y1="186.60" x2="92.00" y2="190.20" stroke="#5c5858" stroke-width="0.8"/>
<line x1="51.00" y1="188.80" x2="58.00" y2="189.40" stroke="#9a9a9a" stroke-width="0.7"/>
<path d="M98,181 Q106,196 111,207" fill="none" stroke="#7d7d7d" stroke-width="1.2" stroke-dasharray="2.8 2"/>
<path d="M65,202.5 Q88,211 106,217" fill="none" stroke="#7d7d7d" stroke-width="1.2" stroke-dasharray="2.8 2"/>
<ellipse cx="109" cy="213.5" rx="7.5" ry="5" fill="none" stroke="#7d7d7d" stroke-width="1" stroke-dasharray="2 1.6" transform="rotate(20 108 214)"/>
<line x1="93.70" y1="386.70" x2="45.20" y2="266.80" stroke="#949494" stroke-width="1.5" stroke-dasharray="3 2.8"/>
<line x1="107.00" y1="419.00" x2="93.70" y2="386.70" stroke="#c9cfd3" stroke-width="1.1" stroke-dasharray="2.2 2.6" opacity="0.8"/>
<path d="M41.2,273.5 L44.5,264.6 L51.2,270.6" fill="none" stroke="#949494" stroke-width="1.5" stroke-linejoin="miter"/>
<line x1="213.00" y1="343.00" x2="256.50" y2="295.30" stroke="#949494" stroke-width="1.5" stroke-dasharray="3 2.8"/>
<line x1="148.00" y1="415.00" x2="213.00" y2="343.00" stroke="#c9cfd3" stroke-width="1.1" stroke-dasharray="2.2 2.6" opacity="0.8"/>
<path d="M249.8,294.6 L258.2,293.6 L257.4,302" fill="none" stroke="#949494" stroke-width="1.5" stroke-linejoin="miter"/>
<ellipse cx="128.5" cy="420.6" rx="19" ry="8" fill="none" stroke="#c8c8c8" stroke-width="0.9" stroke-dasharray="2 1.8"/>
<rect x="509.9" y="152" width="6.2" height="29" rx="3.1" fill="#a82b1b"/>
<circle cx="513.00" cy="181.00" r="6.4" fill="#a82b1b"/>
<line x1="511.00" y1="158.00" x2="513.60" y2="158.00" stroke="#e6a095" stroke-width="0.9"/>
<line x1="511.00" y1="161.60" x2="513.60" y2="161.60" stroke="#e6a095" stroke-width="0.9"/>
<line x1="511.00" y1="165.20" x2="513.60" y2="165.20" stroke="#e6a095" stroke-width="0.9"/>
<line x1="511.00" y1="168.80" x2="513.60" y2="168.80" stroke="#e6a095" stroke-width="0.9"/>
<rect x="509.9" y="307" width="6.2" height="28" rx="3.1" fill="#5a8ec6"/>
<circle cx="513.00" cy="335.00" r="6.4" fill="#5a8ec6"/>
<line x1="511.00" y1="313.00" x2="513.60" y2="313.00" stroke="#c5d9ee" stroke-width="0.9"/>
<line x1="511.00" y1="316.60" x2="513.60" y2="316.60" stroke="#c5d9ee" stroke-width="0.9"/>
<line x1="511.00" y1="320.20" x2="513.60" y2="320.20" stroke="#c5d9ee" stroke-width="0.9"/>
<line x1="511.00" y1="323.80" x2="513.60" y2="323.80" stroke="#c5d9ee" stroke-width="0.9"/>
<line x1="513.00" y1="197.50" x2="513.00" y2="294.00" stroke="#c9c9c9" stroke-width="1.6"/>
<path d="M507.8,288.5 L513,295 L518.2,288.5" fill="none" stroke="#c9c9c9" stroke-width="1.6" stroke-linecap="round" stroke-linejoin="round"/>
<line x1="261.75" y1="62.50" x2="269.00" y2="111.00" stroke="#111" stroke-width="1.7"/>
<circle cx="269.00" cy="111.00" r="2.7" fill="#111"/>
<line x1="306.00" y1="64.00" x2="293.00" y2="109.00" stroke="#111" stroke-width="1.7"/>
<circle cx="293.00" cy="109.00" r="2.7" fill="#111"/>
<line x1="378.00" y1="84.50" x2="353.00" y2="109.00" stroke="#111" stroke-width="1.7"/>
<circle cx="353.00" cy="109.00" r="2.7" fill="#111"/>
<line x1="138.00" y1="102.00" x2="175.00" y2="137.50" stroke="#111" stroke-width="1.7"/>
<circle cx="175.00" cy="137.50" r="2.7" fill="#111"/>
<line x1="30.00" y1="152.50" x2="55.50" y2="186.00" stroke="#111" stroke-width="1.7"/>
<circle cx="55.50" cy="186.00" r="2.7" fill="#111"/>
<line x1="403.75" y1="250.00" x2="377.50" y2="271.00" stroke="#111" stroke-width="1.7"/>
<circle cx="377.50" cy="271.00" r="2.7" fill="#111"/>
<line x1="62.00" y1="386.00" x2="114.50" y2="415.50" stroke="#111" stroke-width="1.7"/>
<circle cx="114.50" cy="415.50" r="2.7" fill="#111"/>
<line x1="196.00" y1="482.40" x2="221.00" y2="457.00" stroke="#111" stroke-width="1.7"/>
<circle cx="221.00" cy="457.00" r="2.7" fill="#111"/>
</g>
<text x="166" y="56" textLength="95" lengthAdjust="spacingAndGlyphs">THz dipole emitter</text>
<text x="306" y="56" textLength="153" lengthAdjust="spacingAndGlyphs">single collected phased array</text>
<text x="382.5" y="81" textLength="210" lengthAdjust="spacingAndGlyphs">modular phased array based transmitter</text>
<text x="54.5" y="80" textLength="85.5" lengthAdjust="spacingAndGlyphs">ceiling-mounted</text>
<text x="54.5" y="94.5" textLength="104.5" lengthAdjust="spacingAndGlyphs">wireless transmitter</text>
<text x="28" y="136" textLength="68" lengthAdjust="spacingAndGlyphs">AlGaAs/GaAs</text>
<text x="28" y="150" textLength="81" lengthAdjust="spacingAndGlyphs">heterostructure</text>
<text x="527" y="165.5" textLength="92" lengthAdjust="spacingAndGlyphs">high-temperature</text>
<text x="527" y="179.5" textLength="49" lengthAdjust="spacingAndGlyphs">operation</text>
<text x="530.5" y="242.7" textLength="64.5" lengthAdjust="spacingAndGlyphs">temperature</text>
<text x="530.5" y="257" textLength="28.5" lengthAdjust="spacingAndGlyphs">drops</text>
<text x="529" y="320" textLength="88" lengthAdjust="spacingAndGlyphs">low-temperature</text>
<text x="529" y="334.5" textLength="49.5" lengthAdjust="spacingAndGlyphs">operation</text>
<text x="406" y="232" textLength="75" lengthAdjust="spacingAndGlyphs">beam-focused</text>
<text x="406" y="246.5" textLength="69" lengthAdjust="spacingAndGlyphs">THz radiation</text>
<text x="17.5" y="371" textLength="40.5" lengthAdjust="spacingAndGlyphs">2DSQW</text>
<text x="17.5" y="385" textLength="42.5" lengthAdjust="spacingAndGlyphs">receiver</text>
<text x="57" y="492.5" textLength="134" lengthAdjust="spacingAndGlyphs">single quantum processor</text>
<text x="347.4" y="474" textLength="181.6" lengthAdjust="spacingAndGlyphs">multi-core quantum processor unit</text>
</svg></body></html>
